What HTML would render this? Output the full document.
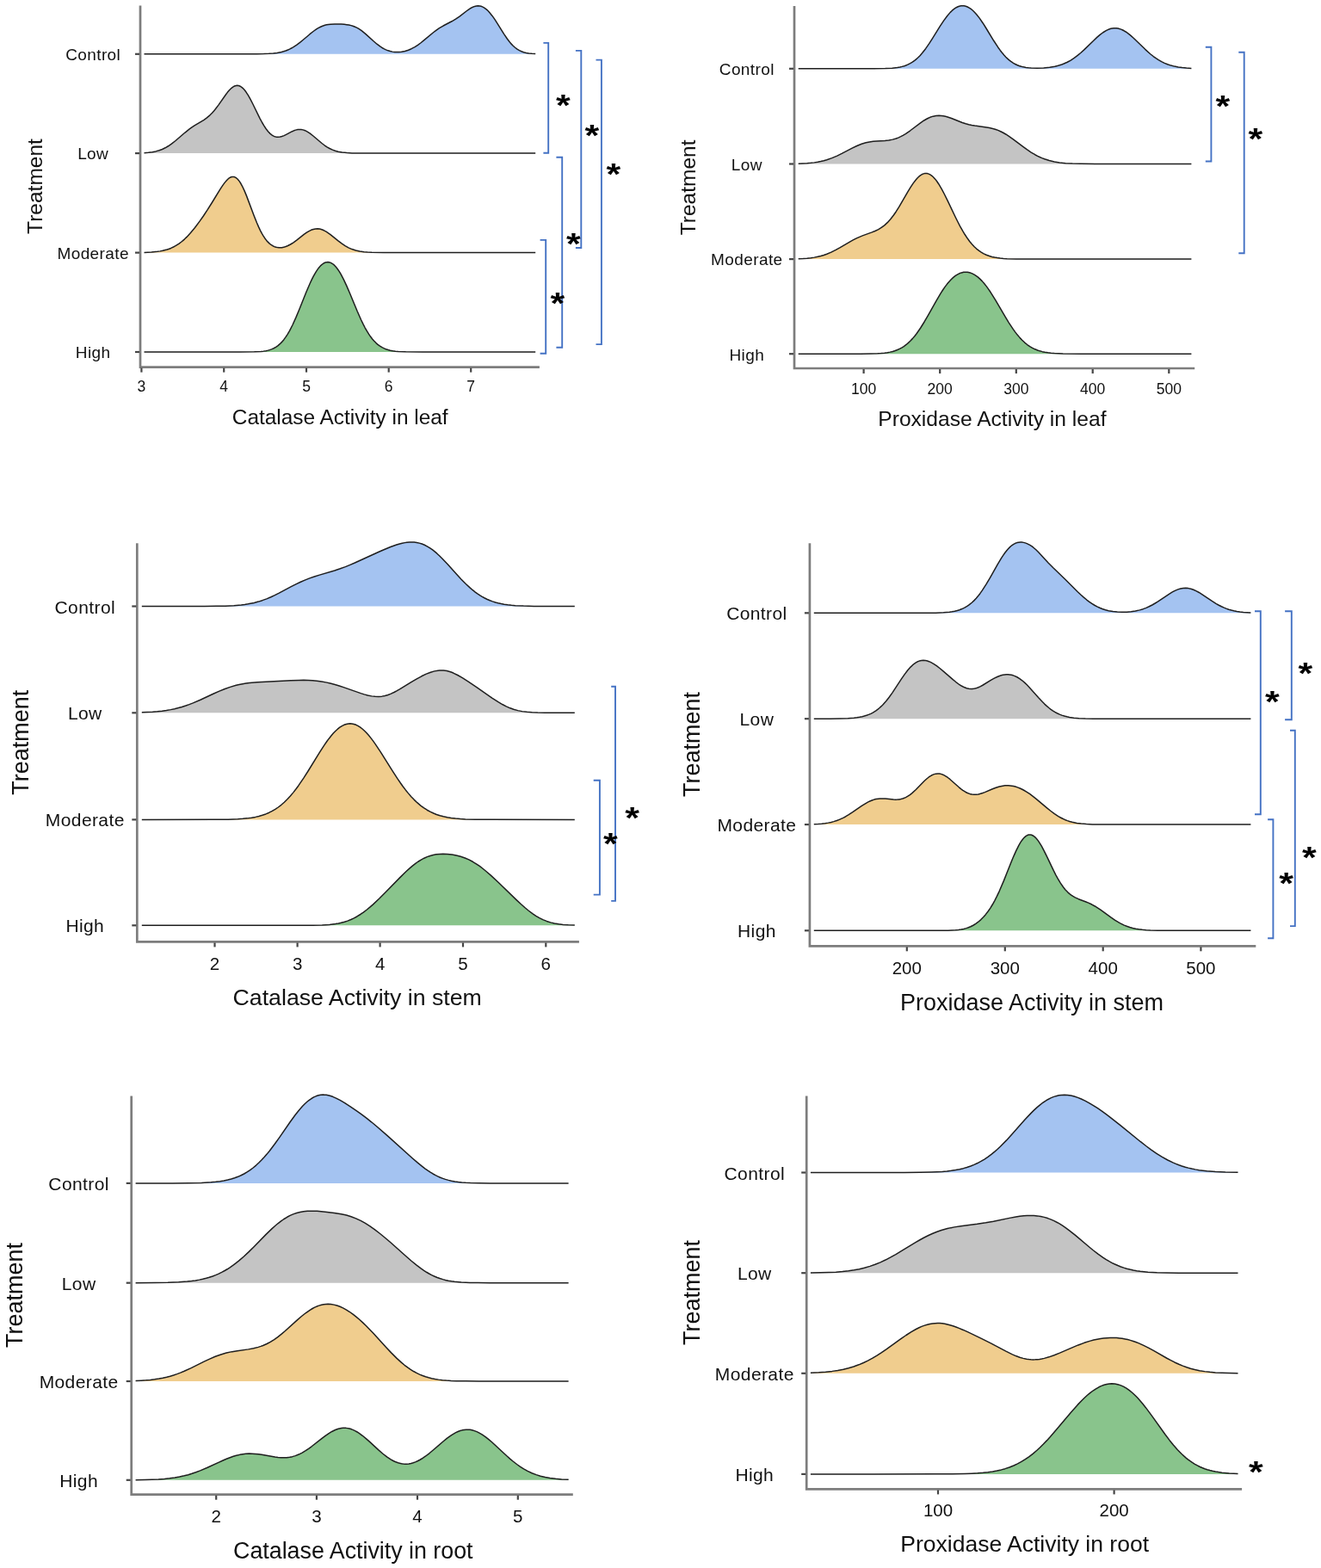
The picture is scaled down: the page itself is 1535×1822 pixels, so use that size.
<!DOCTYPE html><html><head><meta charset="utf-8"><title>Ridgeline plots</title><style>html,body{margin:0;padding:0;background:#fff;}svg{display:block;filter:blur(0.45px);}</style></head><body>
<svg width="1535" height="1822" viewBox="0 0 1535 1822">
<rect width="1535" height="1822" fill="#ffffff"/>
<g font-family="'Liberation Sans', Arial, sans-serif" fill="#111111"><path d="M167.5,62.8 L167.5,62.8 298.5,62.75 306.5,62.61 312.5,62.37 317.5,61.99 322,61.42 327,60.43 329.5,59.75 332,58.94 334.5,57.96 336.5,57.07 339,55.79 341,54.64 344.5,52.36 348.5,49.38 352,46.52 360,39.7 364,36.5 368,33.71 371.5,31.7 373.5,30.76 375.5,29.97 377.5,29.33 379.5,28.83 381.5,28.46 384,28.14 389,27.9 396.5,28.07 400,28.31 403,28.64 405.5,29.05 408,29.62 410,30.22 412,30.96 414,31.86 416,32.93 418,34.15 420.5,35.91 425,39.58 434,47.78 438,51.2 442,54.19 444,55.49 446,56.63 448.5,57.85 451,58.83 453.5,59.59 456,60.12 458.5,60.46 461,60.59 463.5,60.54 466.5,60.25 470.5,59.46 474.5,58.2 478,56.71 482,54.57 485.5,52.32 489,49.76 492.5,46.96 503.5,37.77 507,35.1 510.5,32.71 515,30.02 525,24.78 529.5,22.13 534,19.03 543.5,11.77 547,9.47 549.5,8.18 551.5,7.42 553.5,6.95 555.5,6.78 557.5,6.95 559,7.31 560.5,7.86 562,8.61 563.5,9.56 565.5,11.14 567,12.53 569,14.67 572,18.41 575,22.68 578,27.33 585.5,39.36 589.5,45.26 592,48.54 594,50.89 596,53 598.5,55.26 601,57.13 603.5,58.63 606,59.8 608.5,60.69 611.5,61.46 614.5,61.98 618,62.35 622.2,62.6 L622.2,62.8 Z" fill="#a4c3f1" stroke="none"/><polyline points="167.5,62.8 298.5,62.75 306.5,62.61 312.5,62.37 317.5,61.99 322,61.42 327,60.43 329.5,59.75 332,58.94 334.5,57.96 336.5,57.07 339,55.79 341,54.64 344.5,52.36 348.5,49.38 352,46.52 360,39.7 364,36.5 368,33.71 371.5,31.7 373.5,30.76 375.5,29.97 377.5,29.33 379.5,28.83 381.5,28.46 384,28.14 389,27.9 396.5,28.07 400,28.31 403,28.64 405.5,29.05 408,29.62 410,30.22 412,30.96 414,31.86 416,32.93 418,34.15 420.5,35.91 425,39.58 434,47.78 438,51.2 442,54.19 444,55.49 446,56.63 448.5,57.85 451,58.83 453.5,59.59 456,60.12 458.5,60.46 461,60.59 463.5,60.54 466.5,60.25 470.5,59.46 474.5,58.2 478,56.71 482,54.57 485.5,52.32 489,49.76 492.5,46.96 503.5,37.77 507,35.1 510.5,32.71 515,30.02 525,24.78 529.5,22.13 534,19.03 543.5,11.77 547,9.47 549.5,8.18 551.5,7.42 553.5,6.95 555.5,6.78 557.5,6.95 559,7.31 560.5,7.86 562,8.61 563.5,9.56 565.5,11.14 567,12.53 569,14.67 572,18.41 575,22.68 578,27.33 585.5,39.36 589.5,45.26 592,48.54 594,50.89 596,53 598.5,55.26 601,57.13 603.5,58.63 606,59.8 608.5,60.69 611.5,61.46 614.5,61.98 618,62.35 622.2,62.6" fill="none" stroke="#1e1e1e" stroke-width="1.5" stroke-linejoin="round"/><path d="M167.5,178.1 L167.5,177.69 172.5,177.29 177,176.7 181,175.9 185,174.76 188.5,173.45 192,171.79 195.5,169.77 199,167.4 204,163.51 215,154.05 220.5,149.7 223,147.91 226,145.94 237,139.27 240,137.15 243,134.68 246.5,131.25 248.5,129.01 250.5,126.56 254,121.87 262.5,109.7 264.5,107.09 266.5,104.75 269,102.3 271,100.82 272.5,100.03 273.5,99.67 274.5,99.44 275.5,99.36 277,99.5 278,99.77 279,100.2 280.5,101.1 281.5,101.89 283,103.32 284.5,105.05 286,107.06 288.5,110.96 291,115.42 294,121.28 302,137.58 304.5,142.25 306.5,145.69 309,149.53 311.5,152.77 314,155.37 315,156.22 316.5,157.3 318.5,158.37 319.5,158.75 321,159.14 323,159.33 325.5,159.08 327.5,158.57 330,157.6 332.5,156.39 339.5,152.71 341.5,151.83 343.5,151.13 346,150.57 348,150.4 350,150.49 352,150.87 354,151.51 356,152.41 358,153.54 360,154.87 364,157.98 374,166.49 377,168.77 380,170.78 383,172.5 386.5,174.12 389.5,175.21 393,176.18 397.5,177.01 403,177.6 409,177.9 417.5,178.06 622.2,178.1 L622.2,178.1 Z" fill="#c4c4c4" stroke="none"/><polyline points="167.5,177.69 172.5,177.29 177,176.7 181,175.9 185,174.76 188.5,173.45 192,171.79 195.5,169.77 199,167.4 204,163.51 215,154.05 220.5,149.7 223,147.91 226,145.94 237,139.27 240,137.15 243,134.68 246.5,131.25 248.5,129.01 250.5,126.56 254,121.87 262.5,109.7 264.5,107.09 266.5,104.75 269,102.3 271,100.82 272.5,100.03 273.5,99.67 274.5,99.44 275.5,99.36 277,99.5 278,99.77 279,100.2 280.5,101.1 281.5,101.89 283,103.32 284.5,105.05 286,107.06 288.5,110.96 291,115.42 294,121.28 302,137.58 304.5,142.25 306.5,145.69 309,149.53 311.5,152.77 314,155.37 315,156.22 316.5,157.3 318.5,158.37 319.5,158.75 321,159.14 323,159.33 325.5,159.08 327.5,158.57 330,157.6 332.5,156.39 339.5,152.71 341.5,151.83 343.5,151.13 346,150.57 348,150.4 350,150.49 352,150.87 354,151.51 356,152.41 358,153.54 360,154.87 364,157.98 374,166.49 377,168.77 380,170.78 383,172.5 386.5,174.12 389.5,175.21 393,176.18 397.5,177.01 403,177.6 409,177.9 417.5,178.06 622.2,178.1" fill="none" stroke="#1e1e1e" stroke-width="1.5" stroke-linejoin="round"/><path d="M167.5,293.6 L167.5,293.38 176,293 183,292.33 186,291.88 189,291.32 194,290.02 196.5,289.18 199,288.18 201.5,287.02 203.5,285.96 206,284.46 208,283.11 210.5,281.24 212.5,279.6 214.5,277.82 217,275.4 221.5,270.55 226.5,264.49 232,257.15 236.5,250.72 241,243.94 246,236.02 256,219.67 258.5,215.86 261,212.39 263.5,209.44 265,207.98 266,207.17 267.5,206.22 268.5,205.77 269.5,205.49 270.5,205.38 272,205.54 273.5,206.12 274.5,206.75 276,208.04 277,209.14 278.5,211.13 280,213.52 281.5,216.28 284,221.59 286.5,227.63 295,250.26 298.5,259.04 300.5,263.63 302.5,267.82 304.5,271.6 306,274.15 307.5,276.45 309.5,279.15 311,280.89 313,282.87 315,284.47 317,285.73 319,286.67 321,287.32 322.5,287.62 324,287.79 325.5,287.82 327.5,287.67 330.5,287.05 332,286.57 334,285.78 337.5,284 341,281.79 345,278.86 353.5,272.2 356,270.42 358.5,268.85 361.5,267.33 364,266.43 366.5,265.91 369,265.79 371.5,266.07 374,266.75 376.5,267.8 379,269.17 381.5,270.8 384,272.64 393,279.89 397,282.92 401,285.59 405,287.82 409,289.58 413.5,291.05 418,292.05 423,292.76 427,293.11 432,293.36 446,293.58 622.2,293.6 L622.2,293.6 Z" fill="#f0cd8e" stroke="none"/><polyline points="167.5,293.38 176,293 183,292.33 186,291.88 189,291.32 194,290.02 196.5,289.18 199,288.18 201.5,287.02 203.5,285.96 206,284.46 208,283.11 210.5,281.24 212.5,279.6 214.5,277.82 217,275.4 221.5,270.55 226.5,264.49 232,257.15 236.5,250.72 241,243.94 246,236.02 256,219.67 258.5,215.86 261,212.39 263.5,209.44 265,207.98 266,207.17 267.5,206.22 268.5,205.77 269.5,205.49 270.5,205.38 272,205.54 273.5,206.12 274.5,206.75 276,208.04 277,209.14 278.5,211.13 280,213.52 281.5,216.28 284,221.59 286.5,227.63 295,250.26 298.5,259.04 300.5,263.63 302.5,267.82 304.5,271.6 306,274.15 307.5,276.45 309.5,279.15 311,280.89 313,282.87 315,284.47 317,285.73 319,286.67 321,287.32 322.5,287.62 324,287.79 325.5,287.82 327.5,287.67 330.5,287.05 332,286.57 334,285.78 337.5,284 341,281.79 345,278.86 353.5,272.2 356,270.42 358.5,268.85 361.5,267.33 364,266.43 366.5,265.91 369,265.79 371.5,266.07 374,266.75 376.5,267.8 379,269.17 381.5,270.8 384,272.64 393,279.89 397,282.92 401,285.59 405,287.82 409,289.58 413.5,291.05 418,292.05 423,292.76 427,293.11 432,293.36 446,293.58 622.2,293.6" fill="none" stroke="#1e1e1e" stroke-width="1.5" stroke-linejoin="round"/><path d="M167.5,409 L167.5,409 278.5,408.99 295.5,408.84 303,408.44 306,408.13 309,407.66 311.5,407.12 314,406.39 316,405.65 318,404.75 320.5,403.35 323,401.59 325.5,399.44 327.5,397.4 330,394.42 332,391.68 334,388.61 336.5,384.31 340,377.47 344,368.63 347.5,360.23 356,339.06 360,329.74 362,325.44 364,321.45 366,317.81 367.5,315.33 369.5,312.4 371,310.48 373,308.32 374.5,307.02 376.5,305.7 378,305.03 379.5,304.64 381,304.53 382.5,304.71 384.5,305.38 386.5,306.54 388.5,308.19 390,309.74 392,312.21 394,315.11 396,318.41 399.5,325.06 403,332.61 406.5,340.77 415,361.29 419.5,371.46 422,376.64 424,380.51 426.5,384.94 428.5,388.16 430.5,391.08 432.5,393.7 434.5,396.04 437,398.58 439,400.32 441.5,402.17 444,403.69 446.5,404.91 448.5,405.72 451,406.53 453.5,407.16 456.5,407.73 459.5,408.14 463,408.47 471.5,408.85 491,408.99 622.2,409 L622.2,409 Z" fill="#89c48c" stroke="none"/><polyline points="167.5,409 278.5,408.99 295.5,408.84 303,408.44 306,408.13 309,407.66 311.5,407.12 314,406.39 316,405.65 318,404.75 320.5,403.35 323,401.59 325.5,399.44 327.5,397.4 330,394.42 332,391.68 334,388.61 336.5,384.31 340,377.47 344,368.63 347.5,360.23 356,339.06 360,329.74 362,325.44 364,321.45 366,317.81 367.5,315.33 369.5,312.4 371,310.48 373,308.32 374.5,307.02 376.5,305.7 378,305.03 379.5,304.64 381,304.53 382.5,304.71 384.5,305.38 386.5,306.54 388.5,308.19 390,309.74 392,312.21 394,315.11 396,318.41 399.5,325.06 403,332.61 406.5,340.77 415,361.29 419.5,371.46 422,376.64 424,380.51 426.5,384.94 428.5,388.16 430.5,391.08 432.5,393.7 434.5,396.04 437,398.58 439,400.32 441.5,402.17 444,403.69 446.5,404.91 448.5,405.72 451,406.53 453.5,407.16 456.5,407.73 459.5,408.14 463,408.47 471.5,408.85 491,408.99 622.2,409" fill="none" stroke="#1e1e1e" stroke-width="1.5" stroke-linejoin="round"/><path d="M163,6.6 V426.6 H626.9" fill="none" stroke="#7d7d7d" stroke-width="2.7"/><line x1="157" y1="62.8" x2="162" y2="62.8" stroke="#454545" stroke-width="2.2"/><line x1="157" y1="178.1" x2="162" y2="178.1" stroke="#454545" stroke-width="2.2"/><line x1="157" y1="293.6" x2="162" y2="293.6" stroke="#454545" stroke-width="2.2"/><line x1="157" y1="409" x2="162" y2="409" stroke="#454545" stroke-width="2.2"/><line x1="164.4" y1="427.6" x2="164.4" y2="432.6" stroke="#454545" stroke-width="2.2"/><text x="164.4" y="455" font-size="17.5" text-anchor="middle">3</text><line x1="260.2" y1="427.6" x2="260.2" y2="432.6" stroke="#454545" stroke-width="2.2"/><text x="260.2" y="455" font-size="17.5" text-anchor="middle">4</text><line x1="356" y1="427.6" x2="356" y2="432.6" stroke="#454545" stroke-width="2.2"/><text x="356" y="455" font-size="17.5" text-anchor="middle">5</text><line x1="451.7" y1="427.6" x2="451.7" y2="432.6" stroke="#454545" stroke-width="2.2"/><text x="451.7" y="455" font-size="17.5" text-anchor="middle">6</text><line x1="547.2" y1="427.6" x2="547.2" y2="432.6" stroke="#454545" stroke-width="2.2"/><text x="547.2" y="455" font-size="17.5" text-anchor="middle">7</text><text x="108.2" y="70.1" font-size="19" letter-spacing="0.4" text-anchor="middle">Control</text><text x="108.2" y="185.4" font-size="19" letter-spacing="0.4" text-anchor="middle">Low</text><text x="108.2" y="300.9" font-size="19" letter-spacing="0.4" text-anchor="middle">Moderate</text><text x="108.2" y="416.3" font-size="19" letter-spacing="0.4" text-anchor="middle">High</text><text x="40.5" y="225.3" font-size="24.5" text-anchor="middle" transform="rotate(-90 40.5 216.5)">Treatment</text><text x="395.2" y="493" font-size="24.4" text-anchor="middle">Catalase Activity in leaf</text><path d="M631.4,49.9 H637.2 V177.8 H631.4" fill="none" stroke="#4472c4" stroke-width="1.9"/><path d="M668.9,58.9 H675.3 V288 H668.9" fill="none" stroke="#4472c4" stroke-width="1.9"/><path d="M692.5,69.6 H698.9 V400.1 H692.5" fill="none" stroke="#4472c4" stroke-width="1.9"/><path d="M646.4,182.7 H653.2 V403.8 H646.4" fill="none" stroke="#4472c4" stroke-width="1.9"/><path d="M627.6,278.9 H634.2 V410.8 H627.6" fill="none" stroke="#4472c4" stroke-width="1.9"/><text x="646" y="0" font-size="43" font-weight="bold" transform="translate(0 133.7) scale(1 0.8)" fill="#000">*</text><text x="679.6" y="0" font-size="43" font-weight="bold" transform="translate(0 169.3) scale(1 0.8)" fill="#000">*</text><text x="704.4" y="0" font-size="43" font-weight="bold" transform="translate(0 214.3) scale(1 0.8)" fill="#000">*</text><text x="658.1" y="0" font-size="43" font-weight="bold" transform="translate(0 294.7) scale(1 0.8)" fill="#000">*</text><text x="639.4" y="0" font-size="43" font-weight="bold" transform="translate(0 364.2) scale(1 0.8)" fill="#000">*</text></g>
<g font-family="'Liberation Sans', Arial, sans-serif" fill="#111111"><path d="M927.7,79.8 L927.7,79.8 1010.7,79.79 1028.7,79.59 1036.7,79.18 1042.7,78.5 1045.7,77.97 1048.2,77.39 1050.7,76.67 1052.7,75.97 1055.2,74.92 1057.7,73.65 1060.2,72.14 1062.7,70.36 1065.2,68.3 1067.2,66.45 1069.2,64.4 1071.7,61.56 1075.7,56.44 1079.7,50.68 1083.7,44.44 1092.2,30.69 1096.7,23.85 1100.7,18.43 1104.2,14.38 1106.2,12.41 1107.7,11.12 1109.7,9.63 1111.2,8.71 1113.2,7.75 1114.7,7.22 1116.7,6.8 1118.2,6.69 1120.2,6.81 1122.2,7.25 1124.2,7.99 1126.2,9.04 1128.2,10.39 1130.2,12.03 1132.2,13.94 1134.7,16.69 1138.2,21.15 1142.2,26.96 1145.7,32.49 1154.7,47.27 1159.7,54.94 1162.2,58.43 1164.2,61.03 1166.7,64.02 1168.7,66.18 1170.7,68.13 1172.7,69.89 1174.7,71.45 1177.2,73.13 1179.2,74.28 1181.7,75.48 1184.2,76.47 1186.7,77.25 1189.2,77.86 1192.2,78.41 1195.2,78.79 1198.2,79.04 1205.2,79.22 1212.7,78.95 1219.7,78.27 1225.7,77.24 1228.7,76.53 1231.2,75.82 1233.7,75 1236.2,74.05 1240.2,72.23 1244.2,70.04 1248.2,67.44 1252.2,64.45 1255.7,61.53 1259.7,57.91 1270.7,47.18 1274.7,43.42 1278.2,40.39 1281.7,37.74 1285.2,35.56 1287.2,34.57 1288.7,33.95 1290.7,33.31 1292.2,32.97 1294.2,32.71 1295.7,32.66 1297.2,32.74 1299.2,33.04 1300.7,33.41 1302.7,34.09 1304.2,34.74 1306.2,35.77 1308.2,36.99 1310.2,38.37 1313.7,41.12 1317.2,44.22 1330.7,57.32 1336.7,62.71 1340.2,65.52 1343.2,67.7 1346.2,69.66 1349.7,71.66 1353.2,73.36 1356.7,74.78 1360.7,76.09 1364.7,77.11 1369.2,77.97 1373.7,78.58 1378.7,79.05 1384.4,79.38 L1384.4,79.8 Z" fill="#a4c3f1" stroke="none"/><polyline points="927.7,79.8 1010.7,79.79 1028.7,79.59 1036.7,79.18 1042.7,78.5 1045.7,77.97 1048.2,77.39 1050.7,76.67 1052.7,75.97 1055.2,74.92 1057.7,73.65 1060.2,72.14 1062.7,70.36 1065.2,68.3 1067.2,66.45 1069.2,64.4 1071.7,61.56 1075.7,56.44 1079.7,50.68 1083.7,44.44 1092.2,30.69 1096.7,23.85 1100.7,18.43 1104.2,14.38 1106.2,12.41 1107.7,11.12 1109.7,9.63 1111.2,8.71 1113.2,7.75 1114.7,7.22 1116.7,6.8 1118.2,6.69 1120.2,6.81 1122.2,7.25 1124.2,7.99 1126.2,9.04 1128.2,10.39 1130.2,12.03 1132.2,13.94 1134.7,16.69 1138.2,21.15 1142.2,26.96 1145.7,32.49 1154.7,47.27 1159.7,54.94 1162.2,58.43 1164.2,61.03 1166.7,64.02 1168.7,66.18 1170.7,68.13 1172.7,69.89 1174.7,71.45 1177.2,73.13 1179.2,74.28 1181.7,75.48 1184.2,76.47 1186.7,77.25 1189.2,77.86 1192.2,78.41 1195.2,78.79 1198.2,79.04 1205.2,79.22 1212.7,78.95 1219.7,78.27 1225.7,77.24 1228.7,76.53 1231.2,75.82 1233.7,75 1236.2,74.05 1240.2,72.23 1244.2,70.04 1248.2,67.44 1252.2,64.45 1255.7,61.53 1259.7,57.91 1270.7,47.18 1274.7,43.42 1278.2,40.39 1281.7,37.74 1285.2,35.56 1287.2,34.57 1288.7,33.95 1290.7,33.31 1292.2,32.97 1294.2,32.71 1295.7,32.66 1297.2,32.74 1299.2,33.04 1300.7,33.41 1302.7,34.09 1304.2,34.74 1306.2,35.77 1308.2,36.99 1310.2,38.37 1313.7,41.12 1317.2,44.22 1330.7,57.32 1336.7,62.71 1340.2,65.52 1343.2,67.7 1346.2,69.66 1349.7,71.66 1353.2,73.36 1356.7,74.78 1360.7,76.09 1364.7,77.11 1369.2,77.97 1373.7,78.58 1378.7,79.05 1384.4,79.38" fill="none" stroke="#1e1e1e" stroke-width="1.5" stroke-linejoin="round"/><path d="M927.7,190.5 L927.7,190.22 937.7,189.74 942.2,189.35 946.2,188.87 950.2,188.25 953.7,187.57 957.2,186.73 960.7,185.74 966.7,183.64 972.7,181.07 978.2,178.37 990.2,172.09 995.7,169.47 1001.2,167.28 1006.2,165.77 1010.2,164.9 1014.7,164.27 1018.7,163.93 1028.2,163.42 1032.7,162.95 1037.2,162.13 1041.2,160.99 1044.2,159.84 1046.7,158.69 1049.2,157.36 1052.2,155.56 1057.7,151.76 1070.2,142.33 1073.7,139.99 1076.7,138.23 1078.7,137.21 1080.7,136.33 1084.2,135.16 1087.7,134.47 1091.2,134.26 1093.7,134.39 1096.2,134.74 1098.7,135.28 1101.2,135.98 1105.7,137.54 1118.2,142.43 1122.2,143.75 1125.7,144.71 1129.2,145.49 1132.7,146.11 1144.7,147.65 1149.7,148.48 1154.7,149.69 1157.2,150.48 1159.7,151.42 1162.7,152.73 1165.7,154.25 1168.7,155.98 1171.7,157.87 1177.7,162.09 1188.7,170.4 1193.2,173.67 1198.2,177.03 1202.7,179.73 1205.7,181.33 1208.2,182.54 1210.7,183.64 1213.7,184.81 1219.2,186.56 1225.2,187.96 1231.2,188.93 1238.2,189.64 1246.2,190.1 1255.7,190.35 1279.2,190.49 1384.4,190.5 L1384.4,190.5 Z" fill="#c4c4c4" stroke="none"/><polyline points="927.7,190.22 937.7,189.74 942.2,189.35 946.2,188.87 950.2,188.25 953.7,187.57 957.2,186.73 960.7,185.74 966.7,183.64 972.7,181.07 978.2,178.37 990.2,172.09 995.7,169.47 1001.2,167.28 1006.2,165.77 1010.2,164.9 1014.7,164.27 1018.7,163.93 1028.2,163.42 1032.7,162.95 1037.2,162.13 1041.2,160.99 1044.2,159.84 1046.7,158.69 1049.2,157.36 1052.2,155.56 1057.7,151.76 1070.2,142.33 1073.7,139.99 1076.7,138.23 1078.7,137.21 1080.7,136.33 1084.2,135.16 1087.7,134.47 1091.2,134.26 1093.7,134.39 1096.2,134.74 1098.7,135.28 1101.2,135.98 1105.7,137.54 1118.2,142.43 1122.2,143.75 1125.7,144.71 1129.2,145.49 1132.7,146.11 1144.7,147.65 1149.7,148.48 1154.7,149.69 1157.2,150.48 1159.7,151.42 1162.7,152.73 1165.7,154.25 1168.7,155.98 1171.7,157.87 1177.7,162.09 1188.7,170.4 1193.2,173.67 1198.2,177.03 1202.7,179.73 1205.7,181.33 1208.2,182.54 1210.7,183.64 1213.7,184.81 1219.2,186.56 1225.2,187.96 1231.2,188.93 1238.2,189.64 1246.2,190.1 1255.7,190.35 1279.2,190.49 1384.4,190.5" fill="none" stroke="#1e1e1e" stroke-width="1.5" stroke-linejoin="round"/><path d="M927.7,301.1 L927.7,300.78 933.2,300.52 937.7,300.19 942.2,299.71 946.2,299.12 950.2,298.35 953.7,297.49 957.2,296.46 960.7,295.23 965.7,293.14 971.2,290.42 976.2,287.64 988.2,280.61 991.7,278.7 995.2,276.93 998.7,275.32 1002.2,273.88 1013.2,269.88 1016.7,268.49 1020.7,266.57 1024.2,264.47 1027.7,261.86 1031.2,258.66 1034.7,254.8 1038.2,250.3 1041.2,245.95 1044.7,240.4 1054.7,223.19 1058.2,217.41 1061.2,212.89 1064.2,208.93 1065.7,207.22 1067.2,205.7 1068.7,204.39 1070.2,203.31 1071.7,202.47 1073.2,201.88 1074.7,201.54 1075.7,201.46 1077.2,201.56 1079.2,202.1 1081.2,203.1 1083.2,204.57 1084.7,205.95 1086.7,208.16 1088.7,210.76 1090.7,213.71 1094.2,219.62 1097.7,226.26 1101.2,233.4 1110.2,252.28 1113.2,258.29 1115.7,263.05 1118.7,268.4 1121.2,272.53 1124.2,277.05 1126.7,280.44 1129.2,283.49 1132.2,286.71 1134.7,289.04 1137.7,291.44 1140.2,293.15 1143.2,294.86 1146.2,296.26 1149.7,297.55 1152.7,298.41 1155.7,299.09 1158.7,299.61 1162.2,300.07 1166.2,300.43 1170.2,300.68 1180.7,300.98 1204.7,301.1 1384.4,301.1 L1384.4,301.1 Z" fill="#f0cd8e" stroke="none"/><polyline points="927.7,300.78 933.2,300.52 937.7,300.19 942.2,299.71 946.2,299.12 950.2,298.35 953.7,297.49 957.2,296.46 960.7,295.23 965.7,293.14 971.2,290.42 976.2,287.64 988.2,280.61 991.7,278.7 995.2,276.93 998.7,275.32 1002.2,273.88 1013.2,269.88 1016.7,268.49 1020.7,266.57 1024.2,264.47 1027.7,261.86 1031.2,258.66 1034.7,254.8 1038.2,250.3 1041.2,245.95 1044.7,240.4 1054.7,223.19 1058.2,217.41 1061.2,212.89 1064.2,208.93 1065.7,207.22 1067.2,205.7 1068.7,204.39 1070.2,203.31 1071.7,202.47 1073.2,201.88 1074.7,201.54 1075.7,201.46 1077.2,201.56 1079.2,202.1 1081.2,203.1 1083.2,204.57 1084.7,205.95 1086.7,208.16 1088.7,210.76 1090.7,213.71 1094.2,219.62 1097.7,226.26 1101.2,233.4 1110.2,252.28 1113.2,258.29 1115.7,263.05 1118.7,268.4 1121.2,272.53 1124.2,277.05 1126.7,280.44 1129.2,283.49 1132.2,286.71 1134.7,289.04 1137.7,291.44 1140.2,293.15 1143.2,294.86 1146.2,296.26 1149.7,297.55 1152.7,298.41 1155.7,299.09 1158.7,299.61 1162.2,300.07 1166.2,300.43 1170.2,300.68 1180.7,300.98 1204.7,301.1 1384.4,301.1" fill="none" stroke="#1e1e1e" stroke-width="1.5" stroke-linejoin="round"/><path d="M927.7,411.2 L927.7,411.2 1000.2,411.17 1011.7,411.05 1019.7,410.79 1023.7,410.54 1027.7,410.15 1031.2,409.67 1034.2,409.12 1037.2,408.41 1040.2,407.49 1042.7,406.55 1045.2,405.43 1047.7,404.09 1050.2,402.53 1052.7,400.72 1055.2,398.64 1057.7,396.28 1060.2,393.63 1062.7,390.7 1065.2,387.47 1069.7,380.99 1074.2,373.74 1078.2,366.84 1088.2,349.03 1093.2,340.65 1095.7,336.78 1098.2,333.17 1100.7,329.85 1102.7,327.44 1105.2,324.74 1107.7,322.39 1110.2,320.42 1112.7,318.82 1114.7,317.82 1117.2,316.9 1119.7,316.35 1122.2,316.18 1124.2,316.3 1126.7,316.78 1129.2,317.63 1131.7,318.84 1133.7,320.06 1136.2,321.91 1138.7,324.1 1141.2,326.63 1143.7,329.49 1146.2,332.65 1148.7,336.09 1151.2,339.78 1156.7,348.59 1167.7,367.41 1172.2,374.82 1177.2,382.41 1179.7,385.88 1182.2,389.1 1185.2,392.62 1187.7,395.25 1190.7,398.07 1193.7,400.51 1196.7,402.6 1199.7,404.36 1202.7,405.82 1205.7,407.02 1208.2,407.84 1211.2,408.65 1214.2,409.28 1217.7,409.84 1221.2,410.26 1225.2,410.59 1235.2,411.01 1257.7,411.19 1384.4,411.2 L1384.4,411.2 Z" fill="#89c48c" stroke="none"/><polyline points="927.7,411.2 1000.2,411.17 1011.7,411.05 1019.7,410.79 1023.7,410.54 1027.7,410.15 1031.2,409.67 1034.2,409.12 1037.2,408.41 1040.2,407.49 1042.7,406.55 1045.2,405.43 1047.7,404.09 1050.2,402.53 1052.7,400.72 1055.2,398.64 1057.7,396.28 1060.2,393.63 1062.7,390.7 1065.2,387.47 1069.7,380.99 1074.2,373.74 1078.2,366.84 1088.2,349.03 1093.2,340.65 1095.7,336.78 1098.2,333.17 1100.7,329.85 1102.7,327.44 1105.2,324.74 1107.7,322.39 1110.2,320.42 1112.7,318.82 1114.7,317.82 1117.2,316.9 1119.7,316.35 1122.2,316.18 1124.2,316.3 1126.7,316.78 1129.2,317.63 1131.7,318.84 1133.7,320.06 1136.2,321.91 1138.7,324.1 1141.2,326.63 1143.7,329.49 1146.2,332.65 1148.7,336.09 1151.2,339.78 1156.7,348.59 1167.7,367.41 1172.2,374.82 1177.2,382.41 1179.7,385.88 1182.2,389.1 1185.2,392.62 1187.7,395.25 1190.7,398.07 1193.7,400.51 1196.7,402.6 1199.7,404.36 1202.7,405.82 1205.7,407.02 1208.2,407.84 1211.2,408.65 1214.2,409.28 1217.7,409.84 1221.2,410.26 1225.2,410.59 1235.2,411.01 1257.7,411.19 1384.4,411.2" fill="none" stroke="#1e1e1e" stroke-width="1.5" stroke-linejoin="round"/><path d="M923,7.1 V428 H1388.2" fill="none" stroke="#7d7d7d" stroke-width="2.7"/><line x1="917" y1="79.8" x2="922" y2="79.8" stroke="#454545" stroke-width="2.2"/><line x1="917" y1="190.5" x2="922" y2="190.5" stroke="#454545" stroke-width="2.2"/><line x1="917" y1="301.1" x2="922" y2="301.1" stroke="#454545" stroke-width="2.2"/><line x1="917" y1="411.2" x2="922" y2="411.2" stroke="#454545" stroke-width="2.2"/><line x1="1003.6" y1="429" x2="1003.6" y2="434" stroke="#454545" stroke-width="2.2"/><text x="1003.6" y="457.5" font-size="17.5" text-anchor="middle">100</text><line x1="1092.2" y1="429" x2="1092.2" y2="434" stroke="#454545" stroke-width="2.2"/><text x="1092.2" y="457.5" font-size="17.5" text-anchor="middle">200</text><line x1="1180.8" y1="429" x2="1180.8" y2="434" stroke="#454545" stroke-width="2.2"/><text x="1180.8" y="457.5" font-size="17.5" text-anchor="middle">300</text><line x1="1269.7" y1="429" x2="1269.7" y2="434" stroke="#454545" stroke-width="2.2"/><text x="1269.7" y="457.5" font-size="17.5" text-anchor="middle">400</text><line x1="1358.3" y1="429" x2="1358.3" y2="434" stroke="#454545" stroke-width="2.2"/><text x="1358.3" y="457.5" font-size="17.5" text-anchor="middle">500</text><text x="867.8" y="87.1" font-size="19" letter-spacing="0.4" text-anchor="middle">Control</text><text x="867.8" y="197.8" font-size="19" letter-spacing="0.4" text-anchor="middle">Low</text><text x="867.8" y="308.4" font-size="19" letter-spacing="0.4" text-anchor="middle">Moderate</text><text x="867.8" y="418.5" font-size="19" letter-spacing="0.4" text-anchor="middle">High</text><text x="799.4" y="226.7" font-size="24.5" text-anchor="middle" transform="rotate(-90 799.4 217.9)">Treatment</text><text x="1152.9" y="494.5" font-size="24.6" text-anchor="middle">Proxidase Activity in leaf</text><path d="M1400.8,54.8 H1407.4 V187.5 H1400.8" fill="none" stroke="#4472c4" stroke-width="1.9"/><path d="M1439.3,60.8 H1445.7 V294.3 H1439.3" fill="none" stroke="#4472c4" stroke-width="1.9"/><text x="1412.6" y="0" font-size="43" font-weight="bold" transform="translate(0 134.7) scale(1 0.8)" fill="#000">*</text><text x="1450.4" y="0" font-size="43" font-weight="bold" transform="translate(0 172.7) scale(1 0.8)" fill="#000">*</text></g>
<g font-family="'Liberation Sans', Arial, sans-serif" fill="#111111"><path d="M164.8,704.5 L164.8,704.5 237.8,704.47 251.8,704.36 261.8,704.16 271.8,703.7 280.3,702.97 284.3,702.47 288.3,701.85 295.3,700.42 300.3,699.1 304.8,697.67 309.8,695.83 314.8,693.72 319.3,691.62 323.8,689.37 338.3,681.67 343.8,678.84 349.3,676.21 354.8,673.83 359.8,671.89 365.3,669.98 371.3,668.12 388.8,662.98 395.3,660.82 401.3,658.61 406.8,656.4 412.3,654.05 440.8,640.98 447.8,637.94 453.8,635.51 460.8,633.03 464.3,631.99 467.3,631.23 470.3,630.63 472.8,630.25 475.8,629.98 478.3,629.92 481.3,630.06 484.3,630.45 487.3,631.11 490.3,632.05 493.3,633.28 496.3,634.8 499.3,636.61 502.3,638.7 504.8,640.64 507.8,643.19 510.8,645.96 513.8,648.92 519.8,655.27 530.8,667.51 535.8,672.92 541.3,678.52 546.3,683.16 549.3,685.7 552.3,688.05 554.8,689.86 557.8,691.86 560.3,693.37 563.3,695 566.3,696.45 569.3,697.73 572.3,698.84 575.8,699.95 578.8,700.76 582.3,701.54 585.8,702.19 589.8,702.77 594.3,703.28 598.8,703.65 608.3,704.12 620.3,704.38 667.8,704.5 L667.8,704.5 Z" fill="#a4c3f1" stroke="none"/><polyline points="164.8,704.5 237.8,704.47 251.8,704.36 261.8,704.16 271.8,703.7 280.3,702.97 284.3,702.47 288.3,701.85 295.3,700.42 300.3,699.1 304.8,697.67 309.8,695.83 314.8,693.72 319.3,691.62 323.8,689.37 338.3,681.67 343.8,678.84 349.3,676.21 354.8,673.83 359.8,671.89 365.3,669.98 371.3,668.12 388.8,662.98 395.3,660.82 401.3,658.61 406.8,656.4 412.3,654.05 440.8,640.98 447.8,637.94 453.8,635.51 460.8,633.03 464.3,631.99 467.3,631.23 470.3,630.63 472.8,630.25 475.8,629.98 478.3,629.92 481.3,630.06 484.3,630.45 487.3,631.11 490.3,632.05 493.3,633.28 496.3,634.8 499.3,636.61 502.3,638.7 504.8,640.64 507.8,643.19 510.8,645.96 513.8,648.92 519.8,655.27 530.8,667.51 535.8,672.92 541.3,678.52 546.3,683.16 549.3,685.7 552.3,688.05 554.8,689.86 557.8,691.86 560.3,693.37 563.3,695 566.3,696.45 569.3,697.73 572.3,698.84 575.8,699.95 578.8,700.76 582.3,701.54 585.8,702.19 589.8,702.77 594.3,703.28 598.8,703.65 608.3,704.12 620.3,704.38 667.8,704.5" fill="none" stroke="#1e1e1e" stroke-width="1.5" stroke-linejoin="round"/><path d="M164.8,828.3 L164.8,827.85 177.3,827.24 182.8,826.79 188.3,826.19 193.3,825.49 198.3,824.63 202.8,823.69 207.3,822.58 211.3,821.46 215.8,820.03 219.8,818.61 224.3,816.88 232.8,813.24 248.3,806.04 254.8,803.13 261.3,800.48 267.3,798.35 274.3,796.31 277.8,795.47 281.8,794.67 285.8,794.01 289.8,793.48 298.8,792.68 337.8,790.73 347.3,790.38 352.8,790.33 358.3,790.45 363.3,790.74 368.3,791.21 373.8,791.97 378.8,792.88 383.8,794 389.3,795.45 394.3,796.95 399.3,798.59 419.3,805.64 423.3,806.89 427.3,807.96 431.8,808.87 435.8,809.35 439.8,809.45 443.8,809.13 447.3,808.47 450.8,807.47 454.3,806.14 458.3,804.28 461.3,802.67 464.8,800.65 477.8,792.6 483.8,789.05 489.8,785.8 495.3,783.17 500.3,781.2 504.8,779.87 508.8,779.14 510.8,778.95 512.8,778.89 515.3,779 517.3,779.23 519.3,779.6 521.8,780.23 524.3,781.06 526.8,782.05 531.8,784.48 537.3,787.66 544.3,792.13 554.3,798.89 571.8,811.02 579.3,815.91 583.8,818.54 588.3,820.86 592.8,822.82 596.8,824.25 601.8,825.63 606.8,826.63 612.3,827.35 618.3,827.82 624.8,828.09 633.3,828.24 667.8,828.3 L667.8,828.3 Z" fill="#c4c4c4" stroke="none"/><polyline points="164.8,827.85 177.3,827.24 182.8,826.79 188.3,826.19 193.3,825.49 198.3,824.63 202.8,823.69 207.3,822.58 211.3,821.46 215.8,820.03 219.8,818.61 224.3,816.88 232.8,813.24 248.3,806.04 254.8,803.13 261.3,800.48 267.3,798.35 274.3,796.31 277.8,795.47 281.8,794.67 285.8,794.01 289.8,793.48 298.8,792.68 337.8,790.73 347.3,790.38 352.8,790.33 358.3,790.45 363.3,790.74 368.3,791.21 373.8,791.97 378.8,792.88 383.8,794 389.3,795.45 394.3,796.95 399.3,798.59 419.3,805.64 423.3,806.89 427.3,807.96 431.8,808.87 435.8,809.35 439.8,809.45 443.8,809.13 447.3,808.47 450.8,807.47 454.3,806.14 458.3,804.28 461.3,802.67 464.8,800.65 477.8,792.6 483.8,789.05 489.8,785.8 495.3,783.17 500.3,781.2 504.8,779.87 508.8,779.14 510.8,778.95 512.8,778.89 515.3,779 517.3,779.23 519.3,779.6 521.8,780.23 524.3,781.06 526.8,782.05 531.8,784.48 537.3,787.66 544.3,792.13 554.3,798.89 571.8,811.02 579.3,815.91 583.8,818.54 588.3,820.86 592.8,822.82 596.8,824.25 601.8,825.63 606.8,826.63 612.3,827.35 618.3,827.82 624.8,828.09 633.3,828.24 667.8,828.3" fill="none" stroke="#1e1e1e" stroke-width="1.5" stroke-linejoin="round"/><path d="M164.8,952.4 L164.8,952.4 249.8,952.34 265.3,952.14 276.3,951.75 282.3,951.35 287.3,950.87 292.3,950.2 296.8,949.39 300.8,948.48 304.8,947.33 308.8,945.93 312.3,944.45 316.3,942.44 319.8,940.38 323.3,938 326.8,935.29 330.3,932.23 333.8,928.8 337.3,925.01 340.8,920.86 343.8,917.03 346.8,912.95 352.8,904.16 358.3,895.51 371.3,874.36 376.8,865.87 379.8,861.55 382.3,858.16 384.8,855 387.3,852.1 389.8,849.48 392.3,847.18 394.8,845.2 397.3,843.57 399.8,842.31 402.3,841.43 404.8,840.93 406.8,840.8 408.8,840.93 411.3,841.44 413.8,842.33 416.3,843.59 418.3,844.86 420.8,846.75 423.3,848.97 425.8,851.49 428.3,854.29 430.8,857.35 433.3,860.64 436.3,864.84 442.3,873.87 455.8,895.43 461.8,904.67 465.3,909.78 468.3,913.95 471.3,917.91 474.3,921.63 477.8,925.66 481.3,929.34 484.8,932.68 488.8,936.06 492.3,938.66 496.3,941.24 499.8,943.17 503.8,945.05 507.3,946.44 511.3,947.75 515.3,948.81 519.8,949.76 524.3,950.48 529.3,951.08 534.8,951.54 540.8,951.88 552.3,952.21 568.3,952.36 667.8,952.4 L667.8,952.4 Z" fill="#f0cd8e" stroke="none"/><polyline points="164.8,952.4 249.8,952.34 265.3,952.14 276.3,951.75 282.3,951.35 287.3,950.87 292.3,950.2 296.8,949.39 300.8,948.48 304.8,947.33 308.8,945.93 312.3,944.45 316.3,942.44 319.8,940.38 323.3,938 326.8,935.29 330.3,932.23 333.8,928.8 337.3,925.01 340.8,920.86 343.8,917.03 346.8,912.95 352.8,904.16 358.3,895.51 371.3,874.36 376.8,865.87 379.8,861.55 382.3,858.16 384.8,855 387.3,852.1 389.8,849.48 392.3,847.18 394.8,845.2 397.3,843.57 399.8,842.31 402.3,841.43 404.8,840.93 406.8,840.8 408.8,840.93 411.3,841.44 413.8,842.33 416.3,843.59 418.3,844.86 420.8,846.75 423.3,848.97 425.8,851.49 428.3,854.29 430.8,857.35 433.3,860.64 436.3,864.84 442.3,873.87 455.8,895.43 461.8,904.67 465.3,909.78 468.3,913.95 471.3,917.91 474.3,921.63 477.8,925.66 481.3,929.34 484.8,932.68 488.8,936.06 492.3,938.66 496.3,941.24 499.8,943.17 503.8,945.05 507.3,946.44 511.3,947.75 515.3,948.81 519.8,949.76 524.3,950.48 529.3,951.08 534.8,951.54 540.8,951.88 552.3,952.21 568.3,952.36 667.8,952.4" fill="none" stroke="#1e1e1e" stroke-width="1.5" stroke-linejoin="round"/><path d="M164.8,1075.3 L164.8,1075.3 338.3,1075.3 363.3,1075.2 374.3,1074.93 382.8,1074.41 389.8,1073.59 393.3,1072.99 396.3,1072.34 400.3,1071.28 403.8,1070.12 407.8,1068.53 411.3,1066.87 414.8,1064.97 418.8,1062.49 422.3,1060.07 426.3,1057.02 429.8,1054.15 433.3,1051.09 440.8,1044.07 448.3,1036.59 464.8,1019.61 472.3,1012.28 475.8,1009.09 479.3,1006.11 482.8,1003.38 485.8,1001.26 489.3,999.07 492.8,997.2 496.3,995.66 499.8,994.43 503.3,993.5 506.8,992.85 510.8,992.42 514.8,992.27 519.8,992.44 525.3,993.05 530.3,993.96 535.3,995.26 540.3,996.98 544.8,998.93 549.3,1001.28 553.8,1004.05 557.3,1006.47 561.3,1009.5 565.8,1013.21 570.3,1017.16 579.3,1025.55 600.3,1045.89 605.3,1050.54 609.8,1054.52 614.3,1058.23 618.8,1061.61 622.8,1064.28 626.8,1066.61 630.8,1068.6 635.3,1070.43 639.8,1071.86 644.3,1072.94 649.3,1073.8 654.3,1074.39 660.3,1074.82 667.8,1075.1 L667.8,1075.3 Z" fill="#89c48c" stroke="none"/><polyline points="164.8,1075.3 338.3,1075.3 363.3,1075.2 374.3,1074.93 382.8,1074.41 389.8,1073.59 393.3,1072.99 396.3,1072.34 400.3,1071.28 403.8,1070.12 407.8,1068.53 411.3,1066.87 414.8,1064.97 418.8,1062.49 422.3,1060.07 426.3,1057.02 429.8,1054.15 433.3,1051.09 440.8,1044.07 448.3,1036.59 464.8,1019.61 472.3,1012.28 475.8,1009.09 479.3,1006.11 482.8,1003.38 485.8,1001.26 489.3,999.07 492.8,997.2 496.3,995.66 499.8,994.43 503.3,993.5 506.8,992.85 510.8,992.42 514.8,992.27 519.8,992.44 525.3,993.05 530.3,993.96 535.3,995.26 540.3,996.98 544.8,998.93 549.3,1001.28 553.8,1004.05 557.3,1006.47 561.3,1009.5 565.8,1013.21 570.3,1017.16 579.3,1025.55 600.3,1045.89 605.3,1050.54 609.8,1054.52 614.3,1058.23 618.8,1061.61 622.8,1064.28 626.8,1066.61 630.8,1068.6 635.3,1070.43 639.8,1071.86 644.3,1072.94 649.3,1073.8 654.3,1074.39 660.3,1074.82 667.8,1075.1" fill="none" stroke="#1e1e1e" stroke-width="1.5" stroke-linejoin="round"/><path d="M159.3,631.2 V1094.4 H672.9" fill="none" stroke="#7d7d7d" stroke-width="2.7"/><line x1="153.3" y1="704.5" x2="158.3" y2="704.5" stroke="#454545" stroke-width="2.2"/><line x1="153.3" y1="828.3" x2="158.3" y2="828.3" stroke="#454545" stroke-width="2.2"/><line x1="153.3" y1="952.4" x2="158.3" y2="952.4" stroke="#454545" stroke-width="2.2"/><line x1="153.3" y1="1075.3" x2="158.3" y2="1075.3" stroke="#454545" stroke-width="2.2"/><line x1="249.5" y1="1095.4" x2="249.5" y2="1100.4" stroke="#454545" stroke-width="2.2"/><text x="249.5" y="1127" font-size="20.5" text-anchor="middle">2</text><line x1="345.6" y1="1095.4" x2="345.6" y2="1100.4" stroke="#454545" stroke-width="2.2"/><text x="345.6" y="1127" font-size="20.5" text-anchor="middle">3</text><line x1="441.6" y1="1095.4" x2="441.6" y2="1100.4" stroke="#454545" stroke-width="2.2"/><text x="441.6" y="1127" font-size="20.5" text-anchor="middle">4</text><line x1="538" y1="1095.4" x2="538" y2="1100.4" stroke="#454545" stroke-width="2.2"/><text x="538" y="1127" font-size="20.5" text-anchor="middle">5</text><line x1="634.3" y1="1095.4" x2="634.3" y2="1100.4" stroke="#454545" stroke-width="2.2"/><text x="634.3" y="1127" font-size="20.5" text-anchor="middle">6</text><text x="98.8" y="712.5" font-size="21" letter-spacing="0.4" text-anchor="middle">Control</text><text x="98.8" y="836.3" font-size="21" letter-spacing="0.4" text-anchor="middle">Low</text><text x="98.8" y="960.4" font-size="21" letter-spacing="0.4" text-anchor="middle">Moderate</text><text x="98.8" y="1083.3" font-size="21" letter-spacing="0.4" text-anchor="middle">High</text><text x="23.4" y="872.5" font-size="27" text-anchor="middle" transform="rotate(-90 23.4 862.8)">Treatment</text><text x="415.2" y="1167.5" font-size="26.7" text-anchor="middle">Catalase Activity in stem</text><path d="M710.2,797.7 H715 V1046.9 H710.2" fill="none" stroke="#4472c4" stroke-width="1.9"/><path d="M689.7,906.7 H696.9 V1039.6 H689.7" fill="none" stroke="#4472c4" stroke-width="1.9"/><text x="726.2" y="0" font-size="43" font-weight="bold" transform="translate(0 961.7) scale(1 0.8)" fill="#000">*</text><text x="701" y="0" font-size="43" font-weight="bold" transform="translate(0 991.7) scale(1 0.8)" fill="#000">*</text></g>
<g font-family="'Liberation Sans', Arial, sans-serif" fill="#111111"><path d="M945.8,712.3 L945.8,712.3 1066.3,712.29 1087.3,712.14 1096.3,711.81 1103.3,711.19 1106.3,710.76 1109.3,710.2 1112.3,709.47 1114.8,708.7 1117.8,707.56 1120.8,706.14 1123.8,704.4 1126.3,702.67 1129.3,700.23 1131.8,697.88 1134.3,695.23 1136.8,692.26 1138.8,689.68 1141.3,686.18 1145.8,679.21 1150.3,671.56 1159.3,655.6 1163.8,648.12 1165.8,645.07 1167.8,642.25 1169.8,639.67 1171.3,637.93 1173.3,635.86 1174.8,634.51 1176.3,633.34 1178.3,632.06 1179.8,631.31 1181.8,630.59 1183.8,630.16 1185.8,630.02 1187.3,630.08 1189.3,630.37 1191.3,630.89 1193.3,631.63 1194.8,632.32 1196.8,633.42 1198.8,634.71 1200.8,636.2 1203.8,638.77 1206.8,641.69 1218.3,654.16 1223.8,659.81 1237.8,673.31 1252.3,687.67 1255.8,690.98 1259.3,694.12 1262.8,697.04 1265.8,699.33 1268.8,701.41 1271.8,703.26 1274.8,704.89 1277.8,706.3 1280.8,707.49 1283.8,708.49 1288.3,709.65 1293.3,710.53 1298.3,711.06 1303.8,711.28 1309.3,711.16 1314.3,710.75 1319.3,710.01 1324.3,708.88 1328.3,707.66 1331.8,706.34 1335.3,704.78 1338.8,702.98 1341.8,701.26 1345.3,699.07 1358.8,690.02 1362.3,687.93 1365.3,686.37 1368.8,684.9 1371.8,684.01 1374.8,683.48 1377.8,683.35 1380.8,683.61 1383.8,684.26 1386.8,685.27 1390.3,686.85 1393.3,688.48 1396.3,690.32 1408.3,698.4 1413.3,701.54 1416.3,703.24 1419.3,704.78 1421.8,705.92 1424.8,707.14 1427.8,708.18 1430.8,709.05 1433.8,709.78 1437.3,710.45 1440.8,710.97 1444.8,711.41 1453.4,711.95 L1453.4,712.3 Z" fill="#a4c3f1" stroke="none"/><polyline points="945.8,712.3 1066.3,712.29 1087.3,712.14 1096.3,711.81 1103.3,711.19 1106.3,710.76 1109.3,710.2 1112.3,709.47 1114.8,708.7 1117.8,707.56 1120.8,706.14 1123.8,704.4 1126.3,702.67 1129.3,700.23 1131.8,697.88 1134.3,695.23 1136.8,692.26 1138.8,689.68 1141.3,686.18 1145.8,679.21 1150.3,671.56 1159.3,655.6 1163.8,648.12 1165.8,645.07 1167.8,642.25 1169.8,639.67 1171.3,637.93 1173.3,635.86 1174.8,634.51 1176.3,633.34 1178.3,632.06 1179.8,631.31 1181.8,630.59 1183.8,630.16 1185.8,630.02 1187.3,630.08 1189.3,630.37 1191.3,630.89 1193.3,631.63 1194.8,632.32 1196.8,633.42 1198.8,634.71 1200.8,636.2 1203.8,638.77 1206.8,641.69 1218.3,654.16 1223.8,659.81 1237.8,673.31 1252.3,687.67 1255.8,690.98 1259.3,694.12 1262.8,697.04 1265.8,699.33 1268.8,701.41 1271.8,703.26 1274.8,704.89 1277.8,706.3 1280.8,707.49 1283.8,708.49 1288.3,709.65 1293.3,710.53 1298.3,711.06 1303.8,711.28 1309.3,711.16 1314.3,710.75 1319.3,710.01 1324.3,708.88 1328.3,707.66 1331.8,706.34 1335.3,704.78 1338.8,702.98 1341.8,701.26 1345.3,699.07 1358.8,690.02 1362.3,687.93 1365.3,686.37 1368.8,684.9 1371.8,684.01 1374.8,683.48 1377.8,683.35 1380.8,683.61 1383.8,684.26 1386.8,685.27 1390.3,686.85 1393.3,688.48 1396.3,690.32 1408.3,698.4 1413.3,701.54 1416.3,703.24 1419.3,704.78 1421.8,705.92 1424.8,707.14 1427.8,708.18 1430.8,709.05 1433.8,709.78 1437.3,710.45 1440.8,710.97 1444.8,711.41 1453.4,711.95" fill="none" stroke="#1e1e1e" stroke-width="1.5" stroke-linejoin="round"/><path d="M945.8,835.2 L945.8,835.19 964.8,835.14 976.3,834.99 985.3,834.68 992.3,834.17 995.8,833.76 998.8,833.3 1001.8,832.7 1004.3,832.08 1006.8,831.32 1009.3,830.41 1011.8,829.32 1013.8,828.3 1015.8,827.15 1017.8,825.84 1019.8,824.37 1021.8,822.73 1023.8,820.92 1025.8,818.94 1029.8,814.44 1033.3,809.97 1036.8,805.07 1047.3,789.2 1051.3,783.41 1054.8,778.82 1058.3,774.86 1060.3,772.93 1062.3,771.27 1064.3,769.89 1065.8,769.05 1067.3,768.37 1069.3,767.73 1070.8,767.43 1072.8,767.28 1075.3,767.46 1076.8,767.76 1078.3,768.18 1081.3,769.39 1084.8,771.3 1088.3,773.66 1092.3,776.74 1096.3,780.1 1107.3,789.69 1110.8,792.53 1113.8,794.76 1117.3,797.01 1120.3,798.57 1123.3,799.72 1125.8,800.31 1128.3,800.55 1129.8,800.53 1131.3,800.37 1133.8,799.85 1136.8,798.8 1139.3,797.63 1141.8,796.26 1151.3,790.35 1155.3,788.08 1159.3,786.21 1161.3,785.45 1163.3,784.83 1165.3,784.35 1167.3,784.02 1169.3,783.84 1171.3,783.83 1173.3,783.99 1175.3,784.33 1177.3,784.85 1178.8,785.37 1181.8,786.74 1184.8,788.55 1187.8,790.78 1190.8,793.39 1193.3,795.81 1196.3,798.95 1206.8,810.77 1211.3,815.59 1213.8,818.08 1216.3,820.39 1218.8,822.51 1220.8,824.07 1223.3,825.83 1225.8,827.38 1228.3,828.74 1231.3,830.13 1233.8,831.1 1236.8,832.07 1239.8,832.84 1242.8,833.44 1247.8,834.16 1253.8,834.67 1261.3,834.99 1270.8,835.14 1453.4,835.2 L1453.4,835.2 Z" fill="#c4c4c4" stroke="none"/><polyline points="945.8,835.19 964.8,835.14 976.3,834.99 985.3,834.68 992.3,834.17 995.8,833.76 998.8,833.3 1001.8,832.7 1004.3,832.08 1006.8,831.32 1009.3,830.41 1011.8,829.32 1013.8,828.3 1015.8,827.15 1017.8,825.84 1019.8,824.37 1021.8,822.73 1023.8,820.92 1025.8,818.94 1029.8,814.44 1033.3,809.97 1036.8,805.07 1047.3,789.2 1051.3,783.41 1054.8,778.82 1058.3,774.86 1060.3,772.93 1062.3,771.27 1064.3,769.89 1065.8,769.05 1067.3,768.37 1069.3,767.73 1070.8,767.43 1072.8,767.28 1075.3,767.46 1076.8,767.76 1078.3,768.18 1081.3,769.39 1084.8,771.3 1088.3,773.66 1092.3,776.74 1096.3,780.1 1107.3,789.69 1110.8,792.53 1113.8,794.76 1117.3,797.01 1120.3,798.57 1123.3,799.72 1125.8,800.31 1128.3,800.55 1129.8,800.53 1131.3,800.37 1133.8,799.85 1136.8,798.8 1139.3,797.63 1141.8,796.26 1151.3,790.35 1155.3,788.08 1159.3,786.21 1161.3,785.45 1163.3,784.83 1165.3,784.35 1167.3,784.02 1169.3,783.84 1171.3,783.83 1173.3,783.99 1175.3,784.33 1177.3,784.85 1178.8,785.37 1181.8,786.74 1184.8,788.55 1187.8,790.78 1190.8,793.39 1193.3,795.81 1196.3,798.95 1206.8,810.77 1211.3,815.59 1213.8,818.08 1216.3,820.39 1218.8,822.51 1220.8,824.07 1223.3,825.83 1225.8,827.38 1228.3,828.74 1231.3,830.13 1233.8,831.1 1236.8,832.07 1239.8,832.84 1242.8,833.44 1247.8,834.16 1253.8,834.67 1261.3,834.99 1270.8,835.14 1453.4,835.2" fill="none" stroke="#1e1e1e" stroke-width="1.5" stroke-linejoin="round"/><path d="M945.8,958.1 L945.8,957.76 950.8,957.49 954.8,957.16 958.8,956.69 962.3,956.13 965.8,955.41 968.8,954.63 972.3,953.52 975.3,952.38 980.3,950.07 982.8,948.72 985.8,946.96 990.8,943.71 1001.3,936.42 1006.3,933.29 1008.8,931.93 1011.3,930.74 1013.8,929.75 1015.8,929.1 1017.8,928.6 1020.3,928.17 1022.3,927.97 1024.8,927.89 1028.8,928.08 1038.3,929.05 1040.8,929.15 1042.8,929.1 1044.8,928.91 1046.8,928.56 1048.8,928.03 1050.8,927.31 1052.8,926.38 1055.3,924.94 1057.3,923.56 1059.8,921.58 1064.3,917.44 1074.3,907.28 1076.8,905 1079.3,902.99 1082.3,901.04 1084.8,899.86 1087.3,899.13 1089.8,898.88 1091.8,899.03 1094.3,899.63 1096.3,900.43 1098.8,901.79 1101.3,903.48 1103.8,905.45 1114.3,914.8 1116.8,916.84 1118.8,918.32 1121.8,920.22 1124.3,921.48 1126.8,922.41 1129.3,923 1131.8,923.27 1134.3,923.22 1136.8,922.9 1139.3,922.32 1141.8,921.55 1144.3,920.63 1153.3,916.81 1157.3,915.26 1161.3,914 1165.3,913.15 1167.8,912.85 1169.8,912.74 1171.8,912.76 1173.8,912.9 1175.8,913.17 1177.8,913.56 1179.8,914.06 1182.3,914.86 1185.8,916.27 1189.3,918.01 1192.8,920.04 1196.8,922.71 1200.3,925.29 1203.8,928.07 1216.3,938.63 1220.8,942.27 1225.3,945.61 1229.8,948.55 1232.3,949.99 1234.8,951.28 1237.3,952.43 1240.3,953.62 1242.8,954.46 1245.8,955.3 1251.3,956.44 1256.3,957.11 1262.3,957.6 1269.3,957.89 1278.8,958.04 1453.4,958.1 L1453.4,958.1 Z" fill="#f0cd8e" stroke="none"/><polyline points="945.8,957.76 950.8,957.49 954.8,957.16 958.8,956.69 962.3,956.13 965.8,955.41 968.8,954.63 972.3,953.52 975.3,952.38 980.3,950.07 982.8,948.72 985.8,946.96 990.8,943.71 1001.3,936.42 1006.3,933.29 1008.8,931.93 1011.3,930.74 1013.8,929.75 1015.8,929.1 1017.8,928.6 1020.3,928.17 1022.3,927.97 1024.8,927.89 1028.8,928.08 1038.3,929.05 1040.8,929.15 1042.8,929.1 1044.8,928.91 1046.8,928.56 1048.8,928.03 1050.8,927.31 1052.8,926.38 1055.3,924.94 1057.3,923.56 1059.8,921.58 1064.3,917.44 1074.3,907.28 1076.8,905 1079.3,902.99 1082.3,901.04 1084.8,899.86 1087.3,899.13 1089.8,898.88 1091.8,899.03 1094.3,899.63 1096.3,900.43 1098.8,901.79 1101.3,903.48 1103.8,905.45 1114.3,914.8 1116.8,916.84 1118.8,918.32 1121.8,920.22 1124.3,921.48 1126.8,922.41 1129.3,923 1131.8,923.27 1134.3,923.22 1136.8,922.9 1139.3,922.32 1141.8,921.55 1144.3,920.63 1153.3,916.81 1157.3,915.26 1161.3,914 1165.3,913.15 1167.8,912.85 1169.8,912.74 1171.8,912.76 1173.8,912.9 1175.8,913.17 1177.8,913.56 1179.8,914.06 1182.3,914.86 1185.8,916.27 1189.3,918.01 1192.8,920.04 1196.8,922.71 1200.3,925.29 1203.8,928.07 1216.3,938.63 1220.8,942.27 1225.3,945.61 1229.8,948.55 1232.3,949.99 1234.8,951.28 1237.3,952.43 1240.3,953.62 1242.8,954.46 1245.8,955.3 1251.3,956.44 1256.3,957.11 1262.3,957.6 1269.3,957.89 1278.8,958.04 1453.4,958.1" fill="none" stroke="#1e1e1e" stroke-width="1.5" stroke-linejoin="round"/><path d="M945.8,1081.3 L945.8,1081.3 1081.8,1081.29 1101.8,1081.14 1110.3,1080.75 1113.8,1080.42 1116.8,1080 1119.8,1079.42 1122.8,1078.63 1125.3,1077.8 1127.8,1076.78 1130.8,1075.26 1133.8,1073.42 1136.8,1071.2 1139.8,1068.58 1142.8,1065.54 1145.3,1062.66 1148.3,1058.74 1150.8,1055.07 1153.3,1051.01 1155.8,1046.55 1158.3,1041.68 1161.3,1035.32 1166.3,1023.64 1174.8,1002.33 1177.8,995.07 1180.8,988.34 1183.8,982.37 1185.8,978.93 1187.3,976.67 1188.8,974.71 1190.3,973.07 1192.3,971.4 1193.8,970.55 1195.3,970.06 1196.8,969.93 1197.8,970.03 1199.3,970.49 1200.8,971.28 1202.3,972.41 1203.3,973.33 1204.8,974.97 1206.3,976.89 1207.8,979.07 1210.3,983.2 1213.3,988.81 1216.3,994.91 1224.3,1011.69 1226.8,1016.61 1229.3,1021.2 1232.3,1026.19 1235.3,1030.55 1237.8,1033.67 1240.8,1036.83 1242.8,1038.61 1244.8,1040.14 1246.8,1041.46 1249.3,1042.86 1253.3,1044.68 1261.3,1047.71 1264.8,1049.15 1268.8,1051.05 1272.3,1052.98 1275.3,1054.83 1278.8,1057.18 1290.8,1065.91 1295.8,1069.32 1298.8,1071.19 1301.3,1072.61 1306.3,1075.07 1309.3,1076.29 1312.8,1077.49 1316.3,1078.45 1319.8,1079.22 1323.3,1079.8 1327.3,1080.3 1331.8,1080.68 1336.8,1080.95 1345.3,1081.18 1357.8,1081.28 1453.4,1081.3 L1453.4,1081.3 Z" fill="#89c48c" stroke="none"/><polyline points="945.8,1081.3 1081.8,1081.29 1101.8,1081.14 1110.3,1080.75 1113.8,1080.42 1116.8,1080 1119.8,1079.42 1122.8,1078.63 1125.3,1077.8 1127.8,1076.78 1130.8,1075.26 1133.8,1073.42 1136.8,1071.2 1139.8,1068.58 1142.8,1065.54 1145.3,1062.66 1148.3,1058.74 1150.8,1055.07 1153.3,1051.01 1155.8,1046.55 1158.3,1041.68 1161.3,1035.32 1166.3,1023.64 1174.8,1002.33 1177.8,995.07 1180.8,988.34 1183.8,982.37 1185.8,978.93 1187.3,976.67 1188.8,974.71 1190.3,973.07 1192.3,971.4 1193.8,970.55 1195.3,970.06 1196.8,969.93 1197.8,970.03 1199.3,970.49 1200.8,971.28 1202.3,972.41 1203.3,973.33 1204.8,974.97 1206.3,976.89 1207.8,979.07 1210.3,983.2 1213.3,988.81 1216.3,994.91 1224.3,1011.69 1226.8,1016.61 1229.3,1021.2 1232.3,1026.19 1235.3,1030.55 1237.8,1033.67 1240.8,1036.83 1242.8,1038.61 1244.8,1040.14 1246.8,1041.46 1249.3,1042.86 1253.3,1044.68 1261.3,1047.71 1264.8,1049.15 1268.8,1051.05 1272.3,1052.98 1275.3,1054.83 1278.8,1057.18 1290.8,1065.91 1295.8,1069.32 1298.8,1071.19 1301.3,1072.61 1306.3,1075.07 1309.3,1076.29 1312.8,1077.49 1316.3,1078.45 1319.8,1079.22 1323.3,1079.8 1327.3,1080.3 1331.8,1080.68 1336.8,1080.95 1345.3,1081.18 1357.8,1081.28 1453.4,1081.3" fill="none" stroke="#1e1e1e" stroke-width="1.5" stroke-linejoin="round"/><path d="M940.9,631.2 V1099.3 H1459.3" fill="none" stroke="#7d7d7d" stroke-width="2.7"/><line x1="934.9" y1="712.3" x2="939.9" y2="712.3" stroke="#454545" stroke-width="2.2"/><line x1="934.9" y1="835.2" x2="939.9" y2="835.2" stroke="#454545" stroke-width="2.2"/><line x1="934.9" y1="958.1" x2="939.9" y2="958.1" stroke="#454545" stroke-width="2.2"/><line x1="934.9" y1="1081.3" x2="939.9" y2="1081.3" stroke="#454545" stroke-width="2.2"/><line x1="1053.8" y1="1100.3" x2="1053.8" y2="1105.3" stroke="#454545" stroke-width="2.2"/><text x="1053.8" y="1131.6" font-size="20.5" text-anchor="middle">200</text><line x1="1167.8" y1="1100.3" x2="1167.8" y2="1105.3" stroke="#454545" stroke-width="2.2"/><text x="1167.8" y="1131.6" font-size="20.5" text-anchor="middle">300</text><line x1="1281.7" y1="1100.3" x2="1281.7" y2="1105.3" stroke="#454545" stroke-width="2.2"/><text x="1281.7" y="1131.6" font-size="20.5" text-anchor="middle">400</text><line x1="1395.4" y1="1100.3" x2="1395.4" y2="1105.3" stroke="#454545" stroke-width="2.2"/><text x="1395.4" y="1131.6" font-size="20.5" text-anchor="middle">500</text><text x="879.4" y="720.3" font-size="21" letter-spacing="0.4" text-anchor="middle">Control</text><text x="879.4" y="843.2" font-size="21" letter-spacing="0.4" text-anchor="middle">Low</text><text x="879.4" y="966.1" font-size="21" letter-spacing="0.4" text-anchor="middle">Moderate</text><text x="879.4" y="1089.3" font-size="21" letter-spacing="0.4" text-anchor="middle">High</text><text x="803.1" y="874.7" font-size="27" text-anchor="middle" transform="rotate(-90 803.1 865)">Treatment</text><text x="1199" y="1173.5" font-size="27" text-anchor="middle">Proxidase Activity in stem</text><path d="M1458,710.3 H1464.8 V946.2 H1458" fill="none" stroke="#4472c4" stroke-width="1.9"/><path d="M1493.1,710.3 H1500.8 V836.3 H1493.1" fill="none" stroke="#4472c4" stroke-width="1.9"/><path d="M1499,848.7 H1504.8 V1076.1 H1499" fill="none" stroke="#4472c4" stroke-width="1.9"/><path d="M1473.1,952.3 H1479.4 V1090.3 H1473.1" fill="none" stroke="#4472c4" stroke-width="1.9"/><text x="1470.1" y="0" font-size="43" font-weight="bold" transform="translate(0 826.7) scale(1 0.8)" fill="#000">*</text><text x="1508.6" y="0" font-size="43" font-weight="bold" transform="translate(0 794.2) scale(1 0.8)" fill="#000">*</text><text x="1512.9" y="0" font-size="43" font-weight="bold" transform="translate(0 1007.7) scale(1 0.8)" fill="#000">*</text><text x="1486.2" y="0" font-size="43" font-weight="bold" transform="translate(0 1038.2) scale(1 0.8)" fill="#000">*</text></g>
<g font-family="'Liberation Sans', Arial, sans-serif" fill="#111111"><path d="M157.6,1374.9 L157.6,1374.9 200.1,1374.88 219.6,1374.76 234.1,1374.44 245.1,1373.86 250.6,1373.36 255.6,1372.75 260.1,1372.02 264.6,1371.09 268.6,1370.07 272.6,1368.82 276.6,1367.32 280.1,1365.77 283.6,1363.98 287.1,1361.93 290.6,1359.6 294.1,1356.98 297.6,1354.06 300.6,1351.3 303.6,1348.32 307.1,1344.56 310.1,1341.1 313.1,1337.43 319.1,1329.56 324.6,1321.86 337.1,1303.78 343.1,1295.54 346.1,1291.7 348.6,1288.68 351.6,1285.32 354.1,1282.77 357.1,1280.03 359.6,1278.04 362.6,1276.02 365.1,1274.66 367.6,1273.59 370.1,1272.81 372.6,1272.32 375.6,1272.11 377.1,1272.15 379.1,1272.34 382.6,1273.04 386.6,1274.33 390.6,1276.07 395.1,1278.42 400.6,1281.7 407.1,1285.9 414.1,1290.68 420.1,1294.97 426.1,1299.46 431.6,1303.79 437.6,1308.76 450.1,1319.66 479.1,1345.77 485.1,1350.94 490.6,1355.41 494.1,1358.05 497.1,1360.18 500.1,1362.15 503.1,1363.97 506.1,1365.61 508.6,1366.86 511.6,1368.19 514.6,1369.37 517.6,1370.38 521.1,1371.38 524.6,1372.2 528.6,1372.94 532.6,1373.5 536.6,1373.92 541.1,1374.26 546.6,1374.53 556.1,1374.77 569.6,1374.88 660.6,1374.9 L660.6,1374.9 Z" fill="#a4c3f1" stroke="none"/><polyline points="157.6,1374.9 200.1,1374.88 219.6,1374.76 234.1,1374.44 245.1,1373.86 250.6,1373.36 255.6,1372.75 260.1,1372.02 264.6,1371.09 268.6,1370.07 272.6,1368.82 276.6,1367.32 280.1,1365.77 283.6,1363.98 287.1,1361.93 290.6,1359.6 294.1,1356.98 297.6,1354.06 300.6,1351.3 303.6,1348.32 307.1,1344.56 310.1,1341.1 313.1,1337.43 319.1,1329.56 324.6,1321.86 337.1,1303.78 343.1,1295.54 346.1,1291.7 348.6,1288.68 351.6,1285.32 354.1,1282.77 357.1,1280.03 359.6,1278.04 362.6,1276.02 365.1,1274.66 367.6,1273.59 370.1,1272.81 372.6,1272.32 375.6,1272.11 377.1,1272.15 379.1,1272.34 382.6,1273.04 386.6,1274.33 390.6,1276.07 395.1,1278.42 400.6,1281.7 407.1,1285.9 414.1,1290.68 420.1,1294.97 426.1,1299.46 431.6,1303.79 437.6,1308.76 450.1,1319.66 479.1,1345.77 485.1,1350.94 490.6,1355.41 494.1,1358.05 497.1,1360.18 500.1,1362.15 503.1,1363.97 506.1,1365.61 508.6,1366.86 511.6,1368.19 514.6,1369.37 517.6,1370.38 521.1,1371.38 524.6,1372.2 528.6,1372.94 532.6,1373.5 536.6,1373.92 541.1,1374.26 546.6,1374.53 556.1,1374.77 569.6,1374.88 660.6,1374.9" fill="none" stroke="#1e1e1e" stroke-width="1.5" stroke-linejoin="round"/><path d="M157.6,1490.7 L157.6,1490.68 180.1,1490.58 195.1,1490.33 207.6,1489.83 217.6,1489.08 222.6,1488.53 227.1,1487.9 231.6,1487.12 235.6,1486.28 239.6,1485.29 243.1,1484.28 247.1,1482.94 250.6,1481.6 254.1,1480.09 257.6,1478.4 261.1,1476.52 264.1,1474.76 267.1,1472.85 270.6,1470.44 273.6,1468.21 277.1,1465.44 283.1,1460.27 289.1,1454.65 295.1,1448.69 309.1,1434.39 316.1,1427.63 319.6,1424.49 323.1,1421.55 326.6,1418.85 329.6,1416.75 333.6,1414.27 337.1,1412.42 340.6,1410.87 344.6,1409.46 348.6,1408.42 352.6,1407.72 357.1,1407.28 361.6,1407.14 368.6,1407.37 378.1,1408.17 388.6,1409.41 396.6,1410.72 402.6,1412.08 408.1,1413.72 413.6,1415.83 419.1,1418.43 424.1,1421.2 429.6,1424.68 435.6,1428.92 441.6,1433.52 447.1,1438 453.6,1443.54 472.1,1460.03 478.1,1465.25 484.1,1470.17 489.1,1473.94 492.6,1476.35 495.6,1478.26 498.6,1480.01 501.6,1481.59 504.6,1483.01 508.1,1484.47 511.1,1485.55 514.6,1486.63 517.6,1487.4 521.1,1488.16 524.6,1488.77 528.1,1489.25 536.1,1489.99 546.1,1490.43 555.6,1490.61 569.1,1490.68 660.6,1490.7 L660.6,1490.7 Z" fill="#c4c4c4" stroke="none"/><polyline points="157.6,1490.68 180.1,1490.58 195.1,1490.33 207.6,1489.83 217.6,1489.08 222.6,1488.53 227.1,1487.9 231.6,1487.12 235.6,1486.28 239.6,1485.29 243.1,1484.28 247.1,1482.94 250.6,1481.6 254.1,1480.09 257.6,1478.4 261.1,1476.52 264.1,1474.76 267.1,1472.85 270.6,1470.44 273.6,1468.21 277.1,1465.44 283.1,1460.27 289.1,1454.65 295.1,1448.69 309.1,1434.39 316.1,1427.63 319.6,1424.49 323.1,1421.55 326.6,1418.85 329.6,1416.75 333.6,1414.27 337.1,1412.42 340.6,1410.87 344.6,1409.46 348.6,1408.42 352.6,1407.72 357.1,1407.28 361.6,1407.14 368.6,1407.37 378.1,1408.17 388.6,1409.41 396.6,1410.72 402.6,1412.08 408.1,1413.72 413.6,1415.83 419.1,1418.43 424.1,1421.2 429.6,1424.68 435.6,1428.92 441.6,1433.52 447.1,1438 453.6,1443.54 472.1,1460.03 478.1,1465.25 484.1,1470.17 489.1,1473.94 492.6,1476.35 495.6,1478.26 498.6,1480.01 501.6,1481.59 504.6,1483.01 508.1,1484.47 511.1,1485.55 514.6,1486.63 517.6,1487.4 521.1,1488.16 524.6,1488.77 528.1,1489.25 536.1,1489.99 546.1,1490.43 555.6,1490.61 569.1,1490.68 660.6,1490.7" fill="none" stroke="#1e1e1e" stroke-width="1.5" stroke-linejoin="round"/><path d="M157.6,1605 L157.6,1604.51 164.1,1604.2 169.6,1603.84 174.6,1603.39 179.6,1602.8 184.6,1602.05 189.1,1601.22 193.6,1600.21 197.6,1599.17 201.6,1597.98 205.6,1596.64 209.6,1595.14 214.1,1593.3 222.1,1589.65 237.6,1581.95 243.6,1579.1 250.1,1576.31 256.6,1573.95 263.1,1572.06 269.6,1570.64 275.6,1569.66 288.6,1567.87 294.6,1566.77 300.1,1565.38 303.1,1564.41 305.6,1563.48 310.1,1561.48 314.1,1559.34 318.6,1556.53 323.1,1553.32 327.1,1550.15 331.1,1546.76 345.1,1534.11 350.1,1529.76 355.1,1525.77 360.1,1522.29 363.1,1520.49 365.6,1519.19 368.1,1518.06 370.6,1517.13 373.6,1516.26 376.1,1515.76 378.6,1515.46 381.1,1515.36 384.6,1515.55 388.1,1516.12 391.6,1517.04 395.1,1518.3 398.6,1519.88 402.6,1522.06 406.1,1524.26 410.1,1527.09 413.6,1529.82 417.6,1533.2 421.6,1536.85 425.6,1540.72 433.6,1549.01 448.6,1565.46 454.6,1571.87 461.1,1578.38 466.6,1583.39 470.1,1586.29 473.6,1588.95 477.1,1591.36 480.6,1593.52 484.1,1595.44 487.6,1597.11 491.1,1598.55 494.6,1599.78 498.1,1600.82 501.6,1601.68 505.6,1602.49 509.6,1603.12 514.1,1603.66 518.6,1604.06 524.1,1604.41 530.1,1604.65 541.1,1604.87 556.6,1604.97 660.6,1605 L660.6,1605 Z" fill="#f0cd8e" stroke="none"/><polyline points="157.6,1604.51 164.1,1604.2 169.6,1603.84 174.6,1603.39 179.6,1602.8 184.6,1602.05 189.1,1601.22 193.6,1600.21 197.6,1599.17 201.6,1597.98 205.6,1596.64 209.6,1595.14 214.1,1593.3 222.1,1589.65 237.6,1581.95 243.6,1579.1 250.1,1576.31 256.6,1573.95 263.1,1572.06 269.6,1570.64 275.6,1569.66 288.6,1567.87 294.6,1566.77 300.1,1565.38 303.1,1564.41 305.6,1563.48 310.1,1561.48 314.1,1559.34 318.6,1556.53 323.1,1553.32 327.1,1550.15 331.1,1546.76 345.1,1534.11 350.1,1529.76 355.1,1525.77 360.1,1522.29 363.1,1520.49 365.6,1519.19 368.1,1518.06 370.6,1517.13 373.6,1516.26 376.1,1515.76 378.6,1515.46 381.1,1515.36 384.6,1515.55 388.1,1516.12 391.6,1517.04 395.1,1518.3 398.6,1519.88 402.6,1522.06 406.1,1524.26 410.1,1527.09 413.6,1529.82 417.6,1533.2 421.6,1536.85 425.6,1540.72 433.6,1549.01 448.6,1565.46 454.6,1571.87 461.1,1578.38 466.6,1583.39 470.1,1586.29 473.6,1588.95 477.1,1591.36 480.6,1593.52 484.1,1595.44 487.6,1597.11 491.1,1598.55 494.6,1599.78 498.1,1600.82 501.6,1601.68 505.6,1602.49 509.6,1603.12 514.1,1603.66 518.6,1604.06 524.1,1604.41 530.1,1604.65 541.1,1604.87 556.6,1604.97 660.6,1605" fill="none" stroke="#1e1e1e" stroke-width="1.5" stroke-linejoin="round"/><path d="M157.6,1719.8 L157.6,1719.69 168.1,1719.54 176.6,1719.3 184.1,1718.95 191.1,1718.44 197.1,1717.84 203.1,1717.02 208.6,1716.05 214.1,1714.85 218.6,1713.68 223.1,1712.33 227.6,1710.8 232.6,1708.9 241.1,1705.28 259.1,1696.97 263.1,1695.27 267.1,1693.71 271.1,1692.33 274.6,1691.3 278.6,1690.36 282.1,1689.74 285.6,1689.33 289.6,1689.12 293.1,1689.15 297.1,1689.41 300.6,1689.8 304.1,1690.32 319.6,1693.07 323.1,1693.51 326.6,1693.79 330.1,1693.85 333.1,1693.7 336.6,1693.27 339.6,1692.65 343.1,1691.63 347.1,1690.05 351.1,1688.07 355.1,1685.69 358.6,1683.34 362.1,1680.78 374.1,1671.32 378.1,1668.3 382.1,1665.56 385.6,1663.47 389.6,1661.53 393.1,1660.29 396.6,1659.53 398.6,1659.32 400.1,1659.28 402.1,1659.37 404.1,1659.63 406.1,1660.06 408.6,1660.84 410.6,1661.64 413.1,1662.86 415.1,1663.99 417.6,1665.6 421.6,1668.54 425.6,1671.85 429.6,1675.41 439.6,1684.64 444.6,1688.98 449.6,1692.87 454.1,1695.84 456.6,1697.24 458.6,1698.22 460.6,1699.06 462.6,1699.77 464.6,1700.33 466.6,1700.75 468.6,1701.02 470.6,1701.15 472.6,1701.13 475.1,1700.89 477.6,1700.44 480.1,1699.76 482.6,1698.87 485.1,1697.77 487.6,1696.49 490.1,1695.02 494.6,1691.99 499.1,1688.54 503.6,1684.79 514.6,1675.24 519.6,1671.19 524.6,1667.6 527.1,1666.05 529.6,1664.68 532.1,1663.51 534.6,1662.57 537.1,1661.85 539.1,1661.46 541.6,1661.2 543.6,1661.17 546.1,1661.36 548.6,1661.81 552.1,1662.85 554.1,1663.65 556.1,1664.59 560.1,1666.89 564.1,1669.65 567.6,1672.39 571.6,1675.8 588.6,1691.55 592.6,1695.08 596.1,1698.02 600.6,1701.51 604.6,1704.33 608.6,1706.86 613.1,1709.36 618.1,1711.71 623.1,1713.64 628.1,1715.19 633.6,1716.52 639.1,1717.51 645.6,1718.35 652.6,1718.94 660.6,1719.34 L660.6,1719.8 Z" fill="#89c48c" stroke="none"/><polyline points="157.6,1719.69 168.1,1719.54 176.6,1719.3 184.1,1718.95 191.1,1718.44 197.1,1717.84 203.1,1717.02 208.6,1716.05 214.1,1714.85 218.6,1713.68 223.1,1712.33 227.6,1710.8 232.6,1708.9 241.1,1705.28 259.1,1696.97 263.1,1695.27 267.1,1693.71 271.1,1692.33 274.6,1691.3 278.6,1690.36 282.1,1689.74 285.6,1689.33 289.6,1689.12 293.1,1689.15 297.1,1689.41 300.6,1689.8 304.1,1690.32 319.6,1693.07 323.1,1693.51 326.6,1693.79 330.1,1693.85 333.1,1693.7 336.6,1693.27 339.6,1692.65 343.1,1691.63 347.1,1690.05 351.1,1688.07 355.1,1685.69 358.6,1683.34 362.1,1680.78 374.1,1671.32 378.1,1668.3 382.1,1665.56 385.6,1663.47 389.6,1661.53 393.1,1660.29 396.6,1659.53 398.6,1659.32 400.1,1659.28 402.1,1659.37 404.1,1659.63 406.1,1660.06 408.6,1660.84 410.6,1661.64 413.1,1662.86 415.1,1663.99 417.6,1665.6 421.6,1668.54 425.6,1671.85 429.6,1675.41 439.6,1684.64 444.6,1688.98 449.6,1692.87 454.1,1695.84 456.6,1697.24 458.6,1698.22 460.6,1699.06 462.6,1699.77 464.6,1700.33 466.6,1700.75 468.6,1701.02 470.6,1701.15 472.6,1701.13 475.1,1700.89 477.6,1700.44 480.1,1699.76 482.6,1698.87 485.1,1697.77 487.6,1696.49 490.1,1695.02 494.6,1691.99 499.1,1688.54 503.6,1684.79 514.6,1675.24 519.6,1671.19 524.6,1667.6 527.1,1666.05 529.6,1664.68 532.1,1663.51 534.6,1662.57 537.1,1661.85 539.1,1661.46 541.6,1661.2 543.6,1661.17 546.1,1661.36 548.6,1661.81 552.1,1662.85 554.1,1663.65 556.1,1664.59 560.1,1666.89 564.1,1669.65 567.6,1672.39 571.6,1675.8 588.6,1691.55 592.6,1695.08 596.1,1698.02 600.6,1701.51 604.6,1704.33 608.6,1706.86 613.1,1709.36 618.1,1711.71 623.1,1713.64 628.1,1715.19 633.6,1716.52 639.1,1717.51 645.6,1718.35 652.6,1718.94 660.6,1719.34" fill="none" stroke="#1e1e1e" stroke-width="1.5" stroke-linejoin="round"/><path d="M152.7,1273.6 V1736.7 H665.8" fill="none" stroke="#7d7d7d" stroke-width="2.7"/><line x1="146.7" y1="1374.9" x2="151.7" y2="1374.9" stroke="#454545" stroke-width="2.2"/><line x1="146.7" y1="1490.7" x2="151.7" y2="1490.7" stroke="#454545" stroke-width="2.2"/><line x1="146.7" y1="1605" x2="151.7" y2="1605" stroke="#454545" stroke-width="2.2"/><line x1="146.7" y1="1719.8" x2="151.7" y2="1719.8" stroke="#454545" stroke-width="2.2"/><line x1="251.2" y1="1737.7" x2="251.2" y2="1742.7" stroke="#454545" stroke-width="2.2"/><text x="251.2" y="1769.4" font-size="20.5" text-anchor="middle">2</text><line x1="367.9" y1="1737.7" x2="367.9" y2="1742.7" stroke="#454545" stroke-width="2.2"/><text x="367.9" y="1769.4" font-size="20.5" text-anchor="middle">3</text><line x1="485" y1="1737.7" x2="485" y2="1742.7" stroke="#454545" stroke-width="2.2"/><text x="485" y="1769.4" font-size="20.5" text-anchor="middle">4</text><line x1="601.8" y1="1737.7" x2="601.8" y2="1742.7" stroke="#454545" stroke-width="2.2"/><text x="601.8" y="1769.4" font-size="20.5" text-anchor="middle">5</text><text x="91.6" y="1382.9" font-size="21" letter-spacing="0.4" text-anchor="middle">Control</text><text x="91.6" y="1498.7" font-size="21" letter-spacing="0.4" text-anchor="middle">Low</text><text x="91.6" y="1613" font-size="21" letter-spacing="0.4" text-anchor="middle">Moderate</text><text x="91.6" y="1727.8" font-size="21" letter-spacing="0.4" text-anchor="middle">High</text><text x="16.2" y="1514.7" font-size="27" text-anchor="middle" transform="rotate(-90 16.2 1505)">Treatment</text><text x="410.3" y="1811" font-size="26.8" text-anchor="middle">Catalase Activity in root</text></g>
<g font-family="'Liberation Sans', Arial, sans-serif" fill="#111111"><path d="M941.9,1362.5 L941.9,1362.5 1050.9,1362.46 1068.9,1362.33 1081.9,1362.05 1088.9,1361.75 1094.9,1361.38 1100.4,1360.9 1105.4,1360.32 1110.4,1359.57 1114.9,1358.71 1119.4,1357.65 1123.4,1356.51 1127.9,1354.99 1131.9,1353.4 1135.9,1351.55 1139.9,1349.44 1143.9,1347.05 1147.9,1344.36 1151.9,1341.39 1155.9,1338.12 1158.9,1335.48 1162.4,1332.21 1169.4,1325.14 1175.9,1318.06 1190.9,1301.11 1197.9,1293.63 1201.4,1290.15 1204.9,1286.91 1207.9,1284.34 1210.9,1281.98 1214.4,1279.53 1217.4,1277.71 1220.9,1275.9 1223.9,1274.65 1226.9,1273.66 1230.4,1272.85 1233.4,1272.45 1236.9,1272.3 1240.4,1272.49 1244.4,1273.09 1248.4,1274.06 1252.4,1275.37 1256.4,1276.99 1260.9,1279.12 1265.9,1281.83 1270.9,1284.83 1275.4,1287.74 1280.4,1291.16 1285.9,1295.13 1291.4,1299.28 1301.9,1307.56 1325.4,1326.71 1331.9,1331.77 1337.4,1335.84 1343.9,1340.32 1350.4,1344.39 1356.9,1347.99 1362.9,1350.88 1366.4,1352.37 1369.9,1353.73 1373.4,1354.95 1377.4,1356.18 1380.9,1357.13 1384.9,1358.07 1388.9,1358.88 1393.4,1359.64 1402.4,1360.77 1412.4,1361.56 1423.9,1362.06 1438.5,1362.35 L1438.5,1362.5 Z" fill="#a4c3f1" stroke="none"/><polyline points="941.9,1362.5 1050.9,1362.46 1068.9,1362.33 1081.9,1362.05 1088.9,1361.75 1094.9,1361.38 1100.4,1360.9 1105.4,1360.32 1110.4,1359.57 1114.9,1358.71 1119.4,1357.65 1123.4,1356.51 1127.9,1354.99 1131.9,1353.4 1135.9,1351.55 1139.9,1349.44 1143.9,1347.05 1147.9,1344.36 1151.9,1341.39 1155.9,1338.12 1158.9,1335.48 1162.4,1332.21 1169.4,1325.14 1175.9,1318.06 1190.9,1301.11 1197.9,1293.63 1201.4,1290.15 1204.9,1286.91 1207.9,1284.34 1210.9,1281.98 1214.4,1279.53 1217.4,1277.71 1220.9,1275.9 1223.9,1274.65 1226.9,1273.66 1230.4,1272.85 1233.4,1272.45 1236.9,1272.3 1240.4,1272.49 1244.4,1273.09 1248.4,1274.06 1252.4,1275.37 1256.4,1276.99 1260.9,1279.12 1265.9,1281.83 1270.9,1284.83 1275.4,1287.74 1280.4,1291.16 1285.9,1295.13 1291.4,1299.28 1301.9,1307.56 1325.4,1326.71 1331.9,1331.77 1337.4,1335.84 1343.9,1340.32 1350.4,1344.39 1356.9,1347.99 1362.9,1350.88 1366.4,1352.37 1369.9,1353.73 1373.4,1354.95 1377.4,1356.18 1380.9,1357.13 1384.9,1358.07 1388.9,1358.88 1393.4,1359.64 1402.4,1360.77 1412.4,1361.56 1423.9,1362.06 1438.5,1362.35" fill="none" stroke="#1e1e1e" stroke-width="1.5" stroke-linejoin="round"/><path d="M941.9,1479.2 L941.9,1479.05 953.4,1478.86 962.9,1478.57 971.4,1478.13 978.9,1477.54 985.9,1476.77 992.4,1475.81 998.4,1474.67 1004.4,1473.25 1010.9,1471.36 1016.9,1469.26 1022.9,1466.82 1028.9,1464.05 1034.9,1460.95 1040.9,1457.6 1047.4,1453.73 1063.9,1443.64 1068.9,1440.73 1073.4,1438.26 1078.9,1435.47 1083.9,1433.2 1088.9,1431.21 1093.9,1429.49 1097.4,1428.45 1100.9,1427.54 1104.9,1426.64 1108.9,1425.87 1116.4,1424.7 1135.4,1422.31 1145.4,1420.82 1154.4,1419.2 1172.9,1415.39 1180.4,1414.01 1184.9,1413.33 1189.4,1412.82 1193.4,1412.53 1197.4,1412.42 1201.4,1412.53 1205.4,1412.88 1209.4,1413.5 1213.4,1414.39 1217.4,1415.59 1220.9,1416.88 1224.9,1418.64 1228.9,1420.71 1231.9,1422.45 1235.4,1424.67 1238.9,1427.09 1242.9,1430.06 1249.9,1435.66 1263.9,1447.55 1269.9,1452.5 1275.9,1457.14 1281.9,1461.37 1285.4,1463.61 1288.9,1465.68 1291.9,1467.3 1295.4,1469.02 1298.9,1470.56 1302.4,1471.93 1305.9,1473.13 1309.4,1474.17 1312.9,1475.06 1316.9,1475.93 1320.9,1476.64 1324.9,1477.22 1333.9,1478.13 1344.4,1478.71 1355.4,1479 1369.9,1479.15 1438.5,1479.2 L1438.5,1479.2 Z" fill="#c4c4c4" stroke="none"/><polyline points="941.9,1479.05 953.4,1478.86 962.9,1478.57 971.4,1478.13 978.9,1477.54 985.9,1476.77 992.4,1475.81 998.4,1474.67 1004.4,1473.25 1010.9,1471.36 1016.9,1469.26 1022.9,1466.82 1028.9,1464.05 1034.9,1460.95 1040.9,1457.6 1047.4,1453.73 1063.9,1443.64 1068.9,1440.73 1073.4,1438.26 1078.9,1435.47 1083.9,1433.2 1088.9,1431.21 1093.9,1429.49 1097.4,1428.45 1100.9,1427.54 1104.9,1426.64 1108.9,1425.87 1116.4,1424.7 1135.4,1422.31 1145.4,1420.82 1154.4,1419.2 1172.9,1415.39 1180.4,1414.01 1184.9,1413.33 1189.4,1412.82 1193.4,1412.53 1197.4,1412.42 1201.4,1412.53 1205.4,1412.88 1209.4,1413.5 1213.4,1414.39 1217.4,1415.59 1220.9,1416.88 1224.9,1418.64 1228.9,1420.71 1231.9,1422.45 1235.4,1424.67 1238.9,1427.09 1242.9,1430.06 1249.9,1435.66 1263.9,1447.55 1269.9,1452.5 1275.9,1457.14 1281.9,1461.37 1285.4,1463.61 1288.9,1465.68 1291.9,1467.3 1295.4,1469.02 1298.9,1470.56 1302.4,1471.93 1305.9,1473.13 1309.4,1474.17 1312.9,1475.06 1316.9,1475.93 1320.9,1476.64 1324.9,1477.22 1333.9,1478.13 1344.4,1478.71 1355.4,1479 1369.9,1479.15 1438.5,1479.2" fill="none" stroke="#1e1e1e" stroke-width="1.5" stroke-linejoin="round"/><path d="M941.9,1595.8 L941.9,1595.23 951.4,1594.78 959.4,1594.19 966.9,1593.38 973.4,1592.43 979.9,1591.19 985.9,1589.75 991.9,1587.97 997.9,1585.83 1003.4,1583.53 1008.4,1581.14 1013.9,1578.2 1019.4,1574.94 1024.4,1571.72 1029.9,1567.97 1046.9,1555.69 1052.9,1551.5 1058.9,1547.63 1064.4,1544.49 1067.9,1542.74 1070.9,1541.42 1074.4,1540.11 1077.4,1539.19 1080.4,1538.47 1083.4,1537.95 1086.4,1537.64 1089.4,1537.54 1091.9,1537.6 1094.9,1537.86 1097.9,1538.3 1100.9,1538.91 1103.9,1539.67 1107.4,1540.74 1110.9,1541.97 1114.4,1543.33 1119.4,1545.44 1124.9,1547.92 1140.4,1555.32 1151.4,1560.89 1169.4,1570.44 1175.9,1573.63 1180.4,1575.57 1184.9,1577.22 1188.9,1578.38 1192.9,1579.23 1195.4,1579.59 1197.9,1579.82 1200.4,1579.91 1202.9,1579.87 1205.4,1579.7 1207.9,1579.41 1210.4,1579 1213.4,1578.37 1218.9,1576.84 1224.9,1574.75 1231.4,1572.13 1245.9,1565.83 1252.9,1562.93 1259.9,1560.34 1266.9,1558.14 1270.9,1557.09 1274.9,1556.21 1278.9,1555.49 1282.4,1555.01 1286.4,1554.63 1289.9,1554.46 1293.9,1554.44 1297.4,1554.59 1300.9,1554.91 1303.9,1555.3 1307.4,1555.92 1310.4,1556.58 1313.4,1557.37 1316.9,1558.45 1319.9,1559.5 1323.4,1560.88 1328.9,1563.34 1334.9,1566.38 1340.9,1569.68 1355.9,1578.24 1360.4,1580.67 1364.9,1582.95 1369.9,1585.27 1374.4,1587.13 1378.9,1588.77 1383.4,1590.18 1388.4,1591.5 1393.9,1592.66 1399.9,1593.63 1405.9,1594.34 1412.4,1594.88 1419.9,1595.27 1428.4,1595.53 1438.5,1595.69 L1438.5,1595.8 Z" fill="#f0cd8e" stroke="none"/><polyline points="941.9,1595.23 951.4,1594.78 959.4,1594.19 966.9,1593.38 973.4,1592.43 979.9,1591.19 985.9,1589.75 991.9,1587.97 997.9,1585.83 1003.4,1583.53 1008.4,1581.14 1013.9,1578.2 1019.4,1574.94 1024.4,1571.72 1029.9,1567.97 1046.9,1555.69 1052.9,1551.5 1058.9,1547.63 1064.4,1544.49 1067.9,1542.74 1070.9,1541.42 1074.4,1540.11 1077.4,1539.19 1080.4,1538.47 1083.4,1537.95 1086.4,1537.64 1089.4,1537.54 1091.9,1537.6 1094.9,1537.86 1097.9,1538.3 1100.9,1538.91 1103.9,1539.67 1107.4,1540.74 1110.9,1541.97 1114.4,1543.33 1119.4,1545.44 1124.9,1547.92 1140.4,1555.32 1151.4,1560.89 1169.4,1570.44 1175.9,1573.63 1180.4,1575.57 1184.9,1577.22 1188.9,1578.38 1192.9,1579.23 1195.4,1579.59 1197.9,1579.82 1200.4,1579.91 1202.9,1579.87 1205.4,1579.7 1207.9,1579.41 1210.4,1579 1213.4,1578.37 1218.9,1576.84 1224.9,1574.75 1231.4,1572.13 1245.9,1565.83 1252.9,1562.93 1259.9,1560.34 1266.9,1558.14 1270.9,1557.09 1274.9,1556.21 1278.9,1555.49 1282.4,1555.01 1286.4,1554.63 1289.9,1554.46 1293.9,1554.44 1297.4,1554.59 1300.9,1554.91 1303.9,1555.3 1307.4,1555.92 1310.4,1556.58 1313.4,1557.37 1316.9,1558.45 1319.9,1559.5 1323.4,1560.88 1328.9,1563.34 1334.9,1566.38 1340.9,1569.68 1355.9,1578.24 1360.4,1580.67 1364.9,1582.95 1369.9,1585.27 1374.4,1587.13 1378.9,1588.77 1383.4,1590.18 1388.4,1591.5 1393.9,1592.66 1399.9,1593.63 1405.9,1594.34 1412.4,1594.88 1419.9,1595.27 1428.4,1595.53 1438.5,1595.69" fill="none" stroke="#1e1e1e" stroke-width="1.5" stroke-linejoin="round"/><path d="M941.9,1712.9 L941.9,1712.9 1085.4,1712.87 1106.4,1712.76 1120.9,1712.5 1128.9,1712.22 1135.9,1711.84 1142.4,1711.32 1147.9,1710.72 1153.4,1709.94 1158.4,1709.03 1163.4,1707.9 1167.9,1706.66 1172.9,1704.99 1177.9,1703 1182.4,1700.89 1186.9,1698.45 1191.4,1695.68 1195.9,1692.55 1200.4,1689.06 1204.9,1685.22 1208.4,1681.99 1212.4,1678.06 1216.4,1673.89 1220.4,1669.51 1227.9,1660.86 1244.4,1641.16 1252.4,1632.13 1256.4,1627.93 1259.9,1624.49 1263.4,1621.29 1266.9,1618.37 1270.4,1615.76 1273.4,1613.78 1276.9,1611.8 1279.9,1610.4 1282.9,1609.29 1285.9,1608.49 1288.9,1607.99 1291.9,1607.81 1295.4,1608.03 1298.9,1608.7 1301.9,1609.64 1305.4,1611.17 1308.9,1613.16 1312.4,1615.6 1315.9,1618.48 1319.4,1621.77 1321.9,1624.35 1324.9,1627.68 1327.9,1631.25 1331.4,1635.67 1337.9,1644.41 1353.9,1666.81 1358.9,1673.41 1363.4,1678.98 1368.4,1684.67 1373.4,1689.76 1377.9,1693.82 1380.4,1695.84 1382.9,1697.72 1385.4,1699.44 1388.4,1701.3 1390.9,1702.7 1393.9,1704.21 1396.9,1705.53 1399.9,1706.68 1402.9,1707.68 1405.9,1708.54 1408.9,1709.28 1412.4,1710.01 1415.9,1710.6 1419.9,1711.15 1428.4,1711.94 1438.5,1712.45 L1438.5,1712.9 Z" fill="#89c48c" stroke="none"/><polyline points="941.9,1712.9 1085.4,1712.87 1106.4,1712.76 1120.9,1712.5 1128.9,1712.22 1135.9,1711.84 1142.4,1711.32 1147.9,1710.72 1153.4,1709.94 1158.4,1709.03 1163.4,1707.9 1167.9,1706.66 1172.9,1704.99 1177.9,1703 1182.4,1700.89 1186.9,1698.45 1191.4,1695.68 1195.9,1692.55 1200.4,1689.06 1204.9,1685.22 1208.4,1681.99 1212.4,1678.06 1216.4,1673.89 1220.4,1669.51 1227.9,1660.86 1244.4,1641.16 1252.4,1632.13 1256.4,1627.93 1259.9,1624.49 1263.4,1621.29 1266.9,1618.37 1270.4,1615.76 1273.4,1613.78 1276.9,1611.8 1279.9,1610.4 1282.9,1609.29 1285.9,1608.49 1288.9,1607.99 1291.9,1607.81 1295.4,1608.03 1298.9,1608.7 1301.9,1609.64 1305.4,1611.17 1308.9,1613.16 1312.4,1615.6 1315.9,1618.48 1319.4,1621.77 1321.9,1624.35 1324.9,1627.68 1327.9,1631.25 1331.4,1635.67 1337.9,1644.41 1353.9,1666.81 1358.9,1673.41 1363.4,1678.98 1368.4,1684.67 1373.4,1689.76 1377.9,1693.82 1380.4,1695.84 1382.9,1697.72 1385.4,1699.44 1388.4,1701.3 1390.9,1702.7 1393.9,1704.21 1396.9,1705.53 1399.9,1706.68 1402.9,1707.68 1405.9,1708.54 1408.9,1709.28 1412.4,1710.01 1415.9,1710.6 1419.9,1711.15 1428.4,1711.94 1438.5,1712.45" fill="none" stroke="#1e1e1e" stroke-width="1.5" stroke-linejoin="round"/><path d="M937.2,1273.6 V1730.4 H1443.1" fill="none" stroke="#7d7d7d" stroke-width="2.7"/><line x1="931.2" y1="1362.5" x2="936.2" y2="1362.5" stroke="#454545" stroke-width="2.2"/><line x1="931.2" y1="1479.2" x2="936.2" y2="1479.2" stroke="#454545" stroke-width="2.2"/><line x1="931.2" y1="1595.8" x2="936.2" y2="1595.8" stroke="#454545" stroke-width="2.2"/><line x1="931.2" y1="1712.9" x2="936.2" y2="1712.9" stroke="#454545" stroke-width="2.2"/><line x1="1090" y1="1731.4" x2="1090" y2="1736.4" stroke="#454545" stroke-width="2.2"/><text x="1090" y="1761.9" font-size="20.5" text-anchor="middle">100</text><line x1="1294.6" y1="1731.4" x2="1294.6" y2="1736.4" stroke="#454545" stroke-width="2.2"/><text x="1294.6" y="1761.9" font-size="20.5" text-anchor="middle">200</text><text x="876.8" y="1370.5" font-size="21" letter-spacing="0.4" text-anchor="middle">Control</text><text x="876.8" y="1487.2" font-size="21" letter-spacing="0.4" text-anchor="middle">Low</text><text x="876.8" y="1603.8" font-size="21" letter-spacing="0.4" text-anchor="middle">Moderate</text><text x="876.8" y="1720.9" font-size="21" letter-spacing="0.4" text-anchor="middle">High</text><text x="802.9" y="1511.6" font-size="27" text-anchor="middle" transform="rotate(-90 802.9 1501.9)">Treatment</text><text x="1190.7" y="1803.3" font-size="26.5" text-anchor="middle">Proxidase Activity in root</text><text x="1451.1" y="0" font-size="43" font-weight="bold" transform="translate(0 1721.7) scale(1 0.8)" fill="#000">*</text></g>
</svg></body></html>
